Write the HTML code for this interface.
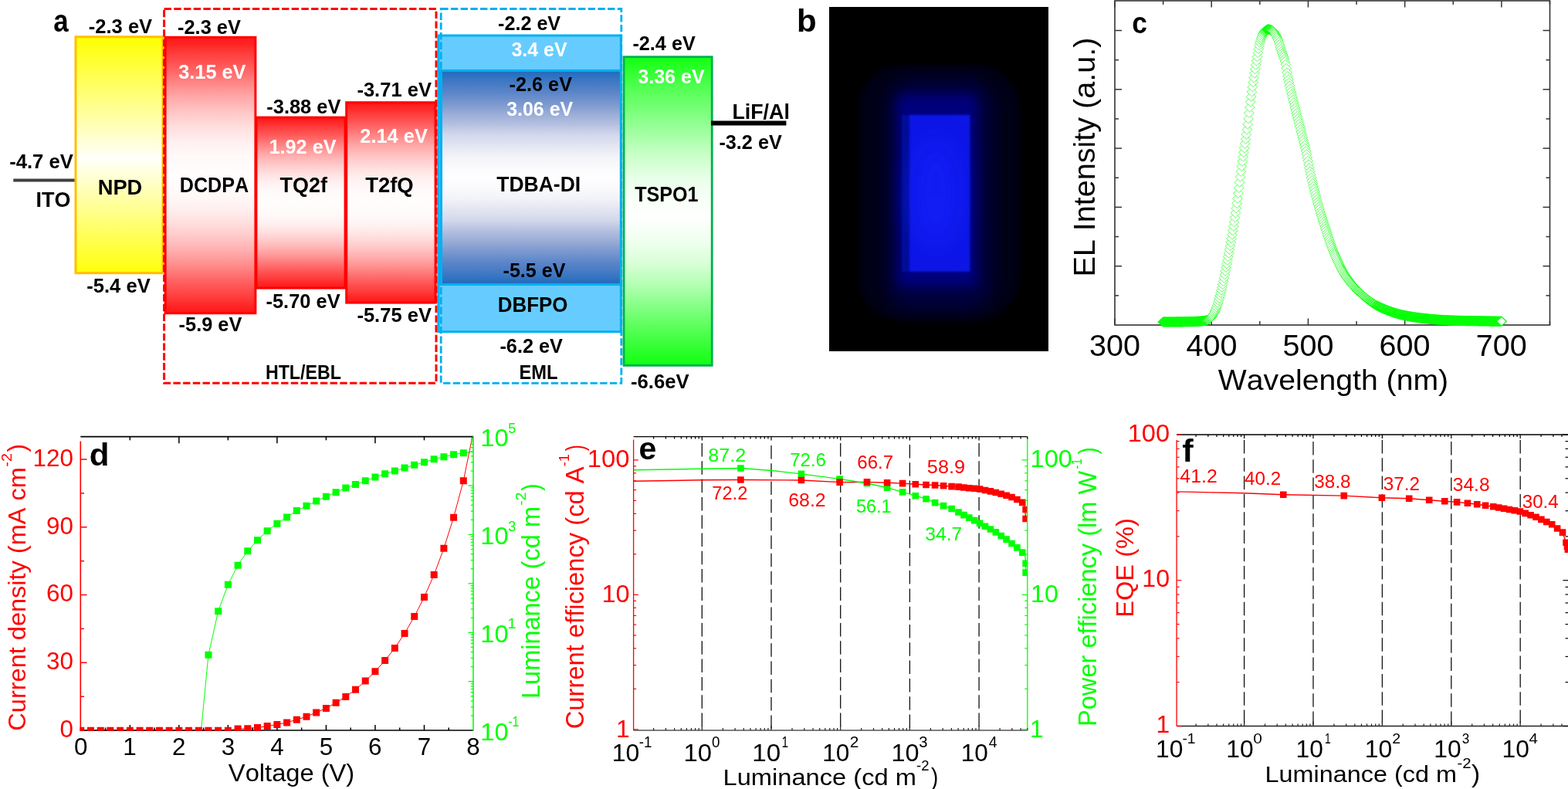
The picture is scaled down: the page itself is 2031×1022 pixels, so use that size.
<!DOCTYPE html>
<html><head><meta charset="utf-8"><title>Figure</title>
<style>
html,body{margin:0;padding:0;background:#fff;width:2031px;height:1022px;overflow:hidden}
svg{display:block}
text{font-family:"Liberation Sans",Arial,sans-serif;font-kerning:none}
</style></head><body>
<svg width="2031" height="1022" viewBox="0 0 2031 1022">
<defs>
<linearGradient id="gY" x1="0" y1="0" x2="0" y2="1"><stop offset="0.0000" stop-color="#ffff00"/><stop offset="0.5150" stop-color="#fffffa"/><stop offset="1.0000" stop-color="#ffff0a"/></linearGradient>
<linearGradient id="gR" x1="0" y1="0" x2="0" y2="1"><stop offset="0.0000" stop-color="#ff1616"/><stop offset="0.0300" stop-color="#ff2828"/><stop offset="0.0600" stop-color="#ff3e3e"/><stop offset="0.0900" stop-color="#ff5050"/><stop offset="0.1300" stop-color="#ff6c6c"/><stop offset="0.1800" stop-color="#ff9090"/><stop offset="0.2300" stop-color="#ffb0b0"/><stop offset="0.2800" stop-color="#ffcaca"/><stop offset="0.3300" stop-color="#ffe0e0"/><stop offset="0.3800" stop-color="#fff0f0"/><stop offset="0.4300" stop-color="#fff9f9"/><stop offset="0.5000" stop-color="#fffdfd"/><stop offset="0.5700" stop-color="#fff9f9"/><stop offset="0.6200" stop-color="#fff0f0"/><stop offset="0.6700" stop-color="#ffe0e0"/><stop offset="0.7200" stop-color="#ffcaca"/><stop offset="0.7700" stop-color="#ffb0b0"/><stop offset="0.8200" stop-color="#ff9090"/><stop offset="0.8700" stop-color="#ff6c6c"/><stop offset="0.9100" stop-color="#ff5050"/><stop offset="0.9400" stop-color="#ff3e3e"/><stop offset="0.9700" stop-color="#ff2828"/><stop offset="1.0000" stop-color="#ff1616"/></linearGradient>
<linearGradient id="gG" x1="0" y1="0" x2="0" y2="1"><stop offset="0.0000" stop-color="#10ff10"/><stop offset="0.1000" stop-color="#52ff52"/><stop offset="0.1700" stop-color="#78ff78"/><stop offset="0.2440" stop-color="#a0ffa0"/><stop offset="0.3170" stop-color="#c8ffc8"/><stop offset="0.3920" stop-color="#e8ffe8"/><stop offset="0.4660" stop-color="#f8fff8"/><stop offset="0.5200" stop-color="#fefffe"/><stop offset="0.5940" stop-color="#f0fff0"/><stop offset="0.6690" stop-color="#d8ffd8"/><stop offset="0.7430" stop-color="#b0ffb0"/><stop offset="0.8160" stop-color="#80ff80"/><stop offset="0.8910" stop-color="#50ff50"/><stop offset="0.9650" stop-color="#25ff25"/><stop offset="1.0000" stop-color="#12ff12"/></linearGradient>
<linearGradient id="gB" x1="0" y1="0" x2="0" y2="1"><stop offset="0.0000" stop-color="#1f6abd"/><stop offset="0.0500" stop-color="#3f78c3"/><stop offset="0.1000" stop-color="#5a84c8"/><stop offset="0.1640" stop-color="#809cd0"/><stop offset="0.2000" stop-color="#98abd6"/><stop offset="0.2500" stop-color="#b4bfdf"/><stop offset="0.3000" stop-color="#d2d8ec"/><stop offset="0.3500" stop-color="#e2e5f1"/><stop offset="0.4000" stop-color="#f2f3f8"/><stop offset="0.4600" stop-color="#fbfbfd"/><stop offset="0.5000" stop-color="#fefeff"/><stop offset="0.5400" stop-color="#fbfbfd"/><stop offset="0.6000" stop-color="#f2f3f8"/><stop offset="0.6500" stop-color="#e2e5f1"/><stop offset="0.7000" stop-color="#d2d8ec"/><stop offset="0.7500" stop-color="#b4bfdf"/><stop offset="0.8000" stop-color="#98abd6"/><stop offset="0.8360" stop-color="#809cd0"/><stop offset="0.9000" stop-color="#5a84c8"/><stop offset="0.9500" stop-color="#3f78c3"/><stop offset="1.0000" stop-color="#1f6abd"/></linearGradient>
<filter id="blurA" x="-50%" y="-50%" width="200%" height="200%"><feGaussianBlur stdDeviation="10"/></filter>
<filter id="blurB" x="-50%" y="-50%" width="200%" height="200%"><feGaussianBlur stdDeviation="16"/></filter>
<filter id="blurD" x="-20%" y="-20%" width="140%" height="140%"><feGaussianBlur stdDeviation="5"/></filter>
<filter id="blurE" x="-30%" y="-30%" width="160%" height="160%"><feGaussianBlur stdDeviation="7"/></filter>
<filter id="blurC" x="-20%" y="-20%" width="140%" height="140%"><feGaussianBlur stdDeviation="1.6"/></filter>
<radialGradient id="gGlow" cx="0.5" cy="0.5" r="0.5"><stop offset="0" stop-color="#0c1cfa"/><stop offset="1" stop-color="#0812d8"/></radialGradient>
<clipPath id="clipB"><rect x="1074.3" y="9.2" width="283.7" height="446"/></clipPath>
<path id="dm" d="M0 -6L6.4 0L0 6L-6.4 0Z" fill="#fff" stroke="#00ff00"/>
<clipPath id="clipD"><rect x="103.5" y="565.6" width="509.5" height="381.2"/></clipPath>
<clipPath id="clipE"><rect x="820.6" y="565.6" width="510.2" height="380.4"/></clipPath>
<clipPath id="clipF"><rect x="1524.1" y="563" width="507.4" height="377.5"/></clipPath>
</defs>
<rect x="0" y="0" width="2031" height="1022" fill="#fff"/>
<line x1="17.3" y1="233.4" x2="98" y2="233.4" stroke="#404040" stroke-width="4"/>
<rect x="98" y="47.7" width="113" height="306" fill="url(#gY)" stroke="#ffc000" stroke-width="3"/>
<rect x="214.1" y="48.3" width="116.8" height="357.4" fill="url(#gR)" stroke="#ff0000" stroke-width="3"/>
<rect x="331.9" y="152.1" width="115.2" height="221" fill="url(#gR)" stroke="#ff0000" stroke-width="3"/>
<rect x="448.7" y="132.7" width="115.4" height="259.4" fill="url(#gR)" stroke="#ff0000" stroke-width="3"/>
<rect x="567.9" y="46" width="236.4" height="45.5" fill="#66ccff" stroke="#00b0f0" stroke-width="3"/>
<rect x="567.9" y="91.4" width="236.4" height="277.1" fill="url(#gB)" stroke="#00b0f0" stroke-width="3"/>
<rect x="569.5" y="91" width="3.5" height="277" fill="#00b0f0" stroke="none" stroke-width="0"/>
<rect x="567.9" y="368.5" width="236.4" height="61.2" fill="#66ccff" stroke="#00b0f0" stroke-width="3"/>
<rect x="212.6" y="11.5" width="352.4" height="484.8" fill="none" stroke="#ff0000" stroke-width="3" stroke-dasharray="9.4 3.3"/>
<rect x="571.2" y="11.5" width="233.6" height="484.8" fill="none" stroke="#00b0f0" stroke-width="2.8" stroke-dasharray="9.4 3.3"/>
<rect x="808" y="73.7" width="114.2" height="399.7" fill="url(#gG)" stroke="#00b050" stroke-width="2.8"/>
<line x1="921" y1="159.4" x2="1018.4" y2="159.4" stroke="#000" stroke-width="6"/>
<text x="69.28" y="41.3" font-size="40.89" textLength="19.4" lengthAdjust="spacingAndGlyphs" fill="#000" font-weight="bold">a</text>
<text x="114.8" y="42.6" font-size="25.6" textLength="82.37" lengthAdjust="spacingAndGlyphs" fill="#000" font-weight="bold">-2.3 eV</text>
<text x="230.01" y="43.5" font-size="25.6" textLength="81.87" lengthAdjust="spacingAndGlyphs" fill="#000" font-weight="bold">-2.3 eV</text>
<text x="12.2" y="217.7" font-size="25.6" textLength="82.68" lengthAdjust="spacingAndGlyphs" fill="#000" font-weight="bold">-4.7 eV</text>
<text x="46.5" y="267.8" font-size="27.4" textLength="44.94" lengthAdjust="spacingAndGlyphs" fill="#000" font-weight="bold">ITO</text>
<text x="126.67" y="252" font-size="27.4" textLength="57.67" lengthAdjust="spacingAndGlyphs" fill="#000" font-weight="bold">NPD</text>
<text x="112.2" y="379" font-size="25.6" textLength="82.68" lengthAdjust="spacingAndGlyphs" fill="#000" font-weight="bold">-5.4 eV</text>
<text x="231.22" y="101.8" font-size="25.6" textLength="87.25" lengthAdjust="spacingAndGlyphs" fill="#fff" font-weight="bold">3.15 eV</text>
<text x="232.72" y="249.4" font-size="27.4" textLength="89.55" lengthAdjust="spacingAndGlyphs" fill="#000" font-weight="bold">DCDPA</text>
<text x="231.61" y="429.4" font-size="25.6" textLength="81.76" lengthAdjust="spacingAndGlyphs" fill="#000" font-weight="bold">-5.9 eV</text>
<text x="345.31" y="147" font-size="25.6" textLength="96.07" lengthAdjust="spacingAndGlyphs" fill="#000" font-weight="bold">-3.88 eV</text>
<text x="348.41" y="199" font-size="25.6" textLength="87.17" lengthAdjust="spacingAndGlyphs" fill="#fff" font-weight="bold">1.92 eV</text>
<text x="362.5" y="249.4" font-size="27.4" textLength="61.45" lengthAdjust="spacingAndGlyphs" fill="#000" font-weight="bold">TQ2f</text>
<text x="344.51" y="398.9" font-size="25.6" textLength="96.17" lengthAdjust="spacingAndGlyphs" fill="#000" font-weight="bold">-5.70 eV</text>
<text x="462.4" y="124.7" font-size="25.6" textLength="96.57" lengthAdjust="spacingAndGlyphs" fill="#000" font-weight="bold">-3.71 eV</text>
<text x="466.32" y="184.5" font-size="25.6" textLength="87.55" lengthAdjust="spacingAndGlyphs" fill="#fff" font-weight="bold">2.14 eV</text>
<text x="473.19" y="249.4" font-size="27.4" textLength="62.56" lengthAdjust="spacingAndGlyphs" fill="#000" font-weight="bold">T2fQ</text>
<text x="462.4" y="416.7" font-size="25.6" textLength="96.57" lengthAdjust="spacingAndGlyphs" fill="#000" font-weight="bold">-5.75 eV</text>
<text x="343.95" y="490.5" font-size="25.48" textLength="97.97" lengthAdjust="spacingAndGlyphs" fill="#000" font-weight="bold">HTL/EBL</text>
<text x="645.02" y="39.4" font-size="25.6" textLength="81.16" lengthAdjust="spacingAndGlyphs" fill="#000" font-weight="bold">-2.2 eV</text>
<text x="662.53" y="72.5" font-size="25.6" textLength="72.04" lengthAdjust="spacingAndGlyphs" fill="#fff" font-weight="bold">3.4 eV</text>
<text x="659.61" y="118.3" font-size="25.6" textLength="81.36" lengthAdjust="spacingAndGlyphs" fill="#000" font-weight="bold">-2.6 eV</text>
<text x="656.23" y="150" font-size="25.6" textLength="85.94" lengthAdjust="spacingAndGlyphs" fill="#fff" font-weight="bold">3.06 eV</text>
<text x="643.2" y="248" font-size="27.4" textLength="108.97" lengthAdjust="spacingAndGlyphs" fill="#000" font-weight="bold">TDBA-DI</text>
<text x="651.52" y="358.9" font-size="25.6" textLength="81.05" lengthAdjust="spacingAndGlyphs" fill="#000" font-weight="bold">-5.5 eV</text>
<text x="644.87" y="404" font-size="27.4" textLength="90.62" lengthAdjust="spacingAndGlyphs" fill="#000" font-weight="bold">DBFPO</text>
<text x="647.41" y="457.4" font-size="25.6" textLength="81.56" lengthAdjust="spacingAndGlyphs" fill="#000" font-weight="bold">-6.2 eV</text>
<text x="672.42" y="490.5" font-size="25.48" textLength="50.01" lengthAdjust="spacingAndGlyphs" fill="#000" font-weight="bold">EML</text>
<text x="819.41" y="64.5" font-size="25.6" textLength="81.36" lengthAdjust="spacingAndGlyphs" fill="#000" font-weight="bold">-2.4 eV</text>
<text x="826.22" y="107.8" font-size="25.6" textLength="86.55" lengthAdjust="spacingAndGlyphs" fill="#fff" font-weight="bold">3.36 eV</text>
<text x="822.22" y="261.2" font-size="27.4" textLength="82.38" lengthAdjust="spacingAndGlyphs" fill="#000" font-weight="bold">TSPO1</text>
<text x="948.41" y="153.6" font-size="27.4" textLength="74.49" lengthAdjust="spacingAndGlyphs" fill="#000" font-weight="bold">LiF/Al</text>
<text x="931.41" y="192.5" font-size="25.6" textLength="81.36" lengthAdjust="spacingAndGlyphs" fill="#000" font-weight="bold">-3.2 eV</text>
<text x="817" y="502.6" font-size="25.6" textLength="75.68" lengthAdjust="spacingAndGlyphs" fill="#000" font-weight="bold">-6.6eV</text>
<text x="1031.93" y="41.4" font-size="41.26" textLength="25.7" lengthAdjust="spacingAndGlyphs" fill="#000" font-weight="bold">b</text>
<rect x="1074" y="9" width="284" height="446" fill="#000" stroke="none" stroke-width="0"/>
<g clip-path="url(#clipB)">
<rect x="1112" y="84" width="208" height="331" fill="#000016" stroke="none" stroke-width="0" rx="55" filter="url(#blurD)"/>
<rect x="1148" y="102" width="138" height="300" fill="#00003e" stroke="none" stroke-width="0" rx="35" filter="url(#blurA)"/>
<rect x="1162" y="122" width="104" height="250" fill="#00007c" stroke="none" stroke-width="0" rx="12" filter="url(#blurE)"/>
<rect x="1168" y="148.5" width="89" height="203.5" fill="#060c98" stroke="none" stroke-width="0" filter="url(#blurC)"/>
<rect x="1178" y="149" width="78" height="202.5" fill="#0a14e6" stroke="none" stroke-width="0" filter="url(#blurC)"/>
<ellipse cx="1212" cy="250" rx="30" ry="70" fill="#1424ff" opacity="0.6" filter="url(#blurB)"/>
</g>
<rect x="1444" y="1" width="563.5" height="420" fill="none" stroke="#333" stroke-width="1.6"/>
<line x1="1444" y1="421" x2="1444" y2="412.5" stroke="#333" stroke-width="1.5"/>
<line x1="1444" y1="1" x2="1444" y2="9.5" stroke="#333" stroke-width="1.5"/>
<line x1="1506.61" y1="421" x2="1506.61" y2="416" stroke="#333" stroke-width="1.5"/>
<line x1="1506.61" y1="1" x2="1506.61" y2="6" stroke="#333" stroke-width="1.5"/>
<line x1="1569.22" y1="421" x2="1569.22" y2="412.5" stroke="#333" stroke-width="1.5"/>
<line x1="1569.22" y1="1" x2="1569.22" y2="9.5" stroke="#333" stroke-width="1.5"/>
<line x1="1631.83" y1="421" x2="1631.83" y2="416" stroke="#333" stroke-width="1.5"/>
<line x1="1631.83" y1="1" x2="1631.83" y2="6" stroke="#333" stroke-width="1.5"/>
<line x1="1694.44" y1="421" x2="1694.44" y2="412.5" stroke="#333" stroke-width="1.5"/>
<line x1="1694.44" y1="1" x2="1694.44" y2="9.5" stroke="#333" stroke-width="1.5"/>
<line x1="1757.06" y1="421" x2="1757.06" y2="416" stroke="#333" stroke-width="1.5"/>
<line x1="1757.06" y1="1" x2="1757.06" y2="6" stroke="#333" stroke-width="1.5"/>
<line x1="1819.67" y1="421" x2="1819.67" y2="412.5" stroke="#333" stroke-width="1.5"/>
<line x1="1819.67" y1="1" x2="1819.67" y2="9.5" stroke="#333" stroke-width="1.5"/>
<line x1="1882.28" y1="421" x2="1882.28" y2="416" stroke="#333" stroke-width="1.5"/>
<line x1="1882.28" y1="1" x2="1882.28" y2="6" stroke="#333" stroke-width="1.5"/>
<line x1="1944.89" y1="421" x2="1944.89" y2="412.5" stroke="#333" stroke-width="1.5"/>
<line x1="1944.89" y1="1" x2="1944.89" y2="9.5" stroke="#333" stroke-width="1.5"/>
<line x1="2007.5" y1="421" x2="2007.5" y2="416" stroke="#333" stroke-width="1.5"/>
<line x1="2007.5" y1="1" x2="2007.5" y2="6" stroke="#333" stroke-width="1.5"/>
<line x1="1444" y1="382.85" x2="1449" y2="382.85" stroke="#333" stroke-width="1.5"/>
<line x1="2007.5" y1="382.85" x2="2002.5" y2="382.85" stroke="#333" stroke-width="1.5"/>
<line x1="1444" y1="344.7" x2="1453" y2="344.7" stroke="#333" stroke-width="1.5"/>
<line x1="2007.5" y1="344.7" x2="1998.5" y2="344.7" stroke="#333" stroke-width="1.5"/>
<line x1="1444" y1="306.55" x2="1449" y2="306.55" stroke="#333" stroke-width="1.5"/>
<line x1="2007.5" y1="306.55" x2="2002.5" y2="306.55" stroke="#333" stroke-width="1.5"/>
<line x1="1444" y1="268.4" x2="1453" y2="268.4" stroke="#333" stroke-width="1.5"/>
<line x1="2007.5" y1="268.4" x2="1998.5" y2="268.4" stroke="#333" stroke-width="1.5"/>
<line x1="1444" y1="230.25" x2="1449" y2="230.25" stroke="#333" stroke-width="1.5"/>
<line x1="2007.5" y1="230.25" x2="2002.5" y2="230.25" stroke="#333" stroke-width="1.5"/>
<line x1="1444" y1="192.1" x2="1453" y2="192.1" stroke="#333" stroke-width="1.5"/>
<line x1="2007.5" y1="192.1" x2="1998.5" y2="192.1" stroke="#333" stroke-width="1.5"/>
<line x1="1444" y1="153.95" x2="1449" y2="153.95" stroke="#333" stroke-width="1.5"/>
<line x1="2007.5" y1="153.95" x2="2002.5" y2="153.95" stroke="#333" stroke-width="1.5"/>
<line x1="1444" y1="115.8" x2="1453" y2="115.8" stroke="#333" stroke-width="1.5"/>
<line x1="2007.5" y1="115.8" x2="1998.5" y2="115.8" stroke="#333" stroke-width="1.5"/>
<line x1="1444" y1="77.65" x2="1449" y2="77.65" stroke="#333" stroke-width="1.5"/>
<line x1="2007.5" y1="77.65" x2="2002.5" y2="77.65" stroke="#333" stroke-width="1.5"/>
<line x1="1444" y1="39.5" x2="1453" y2="39.5" stroke="#333" stroke-width="1.5"/>
<line x1="2007.5" y1="39.5" x2="1998.5" y2="39.5" stroke="#333" stroke-width="1.5"/>
<use href="#dm" x="1506.61" y="417" stroke-width="1.22"/><use href="#dm" x="1507.49" y="417" stroke-width="1.22"/><use href="#dm" x="1508.36" y="417" stroke-width="1.22"/><use href="#dm" x="1509.24" y="417" stroke-width="1.22"/><use href="#dm" x="1510.12" y="417" stroke-width="1.22"/><use href="#dm" x="1510.99" y="417" stroke-width="1.22"/><use href="#dm" x="1511.87" y="417" stroke-width="1.22"/><use href="#dm" x="1512.75" y="417" stroke-width="1.22"/><use href="#dm" x="1513.62" y="417" stroke-width="1.22"/><use href="#dm" x="1514.5" y="417" stroke-width="1.22"/><use href="#dm" x="1515.38" y="417" stroke-width="1.22"/><use href="#dm" x="1516.25" y="417" stroke-width="1.22"/><use href="#dm" x="1517.13" y="417" stroke-width="1.22"/><use href="#dm" x="1518.01" y="417" stroke-width="1.22"/><use href="#dm" x="1518.88" y="417" stroke-width="1.22"/><use href="#dm" x="1519.76" y="417" stroke-width="1.22"/><use href="#dm" x="1520.64" y="416.99" stroke-width="1.22"/><use href="#dm" x="1521.51" y="416.99" stroke-width="1.22"/><use href="#dm" x="1522.39" y="416.98" stroke-width="1.21"/><use href="#dm" x="1523.27" y="416.97" stroke-width="1.21"/><use href="#dm" x="1524.14" y="416.95" stroke-width="1.21"/><use href="#dm" x="1525.02" y="416.94" stroke-width="1.21"/><use href="#dm" x="1525.9" y="416.92" stroke-width="1.21"/><use href="#dm" x="1526.77" y="416.9" stroke-width="1.21"/><use href="#dm" x="1527.65" y="416.88" stroke-width="1.21"/><use href="#dm" x="1528.52" y="416.87" stroke-width="1.21"/><use href="#dm" x="1529.4" y="416.85" stroke-width="1.21"/><use href="#dm" x="1530.28" y="416.83" stroke-width="1.21"/><use href="#dm" x="1531.15" y="416.82" stroke-width="1.21"/><use href="#dm" x="1532.03" y="416.8" stroke-width="1.21"/><use href="#dm" x="1532.91" y="416.79" stroke-width="1.21"/><use href="#dm" x="1533.78" y="416.78" stroke-width="1.21"/><use href="#dm" x="1534.66" y="416.77" stroke-width="1.21"/><use href="#dm" x="1535.54" y="416.76" stroke-width="1.21"/><use href="#dm" x="1536.41" y="416.75" stroke-width="1.21"/><use href="#dm" x="1537.29" y="416.74" stroke-width="1.21"/><use href="#dm" x="1538.17" y="416.73" stroke-width="1.21"/><use href="#dm" x="1539.04" y="416.71" stroke-width="1.21"/><use href="#dm" x="1539.92" y="416.7" stroke-width="1.21"/><use href="#dm" x="1540.8" y="416.69" stroke-width="1.21"/><use href="#dm" x="1541.67" y="416.67" stroke-width="1.21"/><use href="#dm" x="1542.55" y="416.66" stroke-width="1.21"/><use href="#dm" x="1543.43" y="416.64" stroke-width="1.21"/><use href="#dm" x="1544.3" y="416.62" stroke-width="1.21"/><use href="#dm" x="1545.18" y="416.59" stroke-width="1.2"/><use href="#dm" x="1546.06" y="416.56" stroke-width="1.2"/><use href="#dm" x="1546.93" y="416.53" stroke-width="1.2"/><use href="#dm" x="1547.81" y="416.49" stroke-width="1.2"/><use href="#dm" x="1548.69" y="416.44" stroke-width="1.19"/><use href="#dm" x="1549.56" y="416.39" stroke-width="1.19"/><use href="#dm" x="1550.44" y="416.34" stroke-width="1.19"/><use href="#dm" x="1551.32" y="416.28" stroke-width="1.19"/><use href="#dm" x="1552.19" y="416.22" stroke-width="1.19"/><use href="#dm" x="1553.07" y="416.16" stroke-width="1.18"/><use href="#dm" x="1553.95" y="416.09" stroke-width="1.18"/><use href="#dm" x="1554.82" y="416.02" stroke-width="1.18"/><use href="#dm" x="1555.7" y="415.95" stroke-width="1.18"/><use href="#dm" x="1556.57" y="415.87" stroke-width="1.18"/><use href="#dm" x="1557.45" y="415.8" stroke-width="1.18"/><use href="#dm" x="1558.33" y="415.71" stroke-width="1.17"/><use href="#dm" x="1559.2" y="415.62" stroke-width="1.17"/><use href="#dm" x="1560.08" y="415.51" stroke-width="1.16"/><use href="#dm" x="1560.96" y="415.39" stroke-width="1.15"/><use href="#dm" x="1561.83" y="415.23" stroke-width="1.13"/><use href="#dm" x="1562.71" y="415.05" stroke-width="1.1"/><use href="#dm" x="1563.59" y="414.75" stroke-width="1.05"/><use href="#dm" x="1564.46" y="414.34" stroke-width="1"/><use href="#dm" x="1565.34" y="413.82" stroke-width="0.97"/><use href="#dm" x="1566.22" y="413.21" stroke-width="0.94"/><use href="#dm" x="1567.09" y="412.51" stroke-width="0.92"/><use href="#dm" x="1567.97" y="411.75" stroke-width="0.9"/><use href="#dm" x="1568.85" y="410.92" stroke-width="0.89"/><use href="#dm" x="1569.72" y="410.02" stroke-width="0.85"/><use href="#dm" x="1570.6" y="408.87" stroke-width="0.8"/><use href="#dm" x="1571.48" y="407.49" stroke-width="0.77"/><use href="#dm" x="1572.35" y="405.92" stroke-width="0.74"/><use href="#dm" x="1573.23" y="404.17" stroke-width="0.73"/><use href="#dm" x="1574.11" y="402.3" stroke-width="0.72"/><use href="#dm" x="1574.98" y="400.28" stroke-width="0.7"/><use href="#dm" x="1575.86" y="397.98" stroke-width="0.68"/><use href="#dm" x="1576.74" y="395.39" stroke-width="0.67"/><use href="#dm" x="1577.61" y="392.57" stroke-width="0.66"/><use href="#dm" x="1578.49" y="389.53" stroke-width="0.65"/><use href="#dm" x="1579.37" y="386.32" stroke-width="0.65"/><use href="#dm" x="1580.24" y="382.96" stroke-width="0.64"/><use href="#dm" x="1581.12" y="379.5" stroke-width="0.64"/><use href="#dm" x="1581.99" y="375.97" stroke-width="0.64"/><use href="#dm" x="1582.87" y="372.38" stroke-width="0.64"/><use href="#dm" x="1583.75" y="368.57" stroke-width="0.63"/><use href="#dm" x="1584.62" y="364.5" stroke-width="0.63"/><use href="#dm" x="1585.5" y="360.23" stroke-width="0.63"/><use href="#dm" x="1586.38" y="355.78" stroke-width="0.63"/><use href="#dm" x="1587.25" y="351.22" stroke-width="0.63"/><use href="#dm" x="1588.13" y="346.57" stroke-width="0.63"/><use href="#dm" x="1589.01" y="341.89" stroke-width="0.63"/><use href="#dm" x="1589.88" y="337.21" stroke-width="0.63"/><use href="#dm" x="1590.76" y="332.58" stroke-width="0.63"/><use href="#dm" x="1591.64" y="327.99" stroke-width="0.63"/><use href="#dm" x="1592.51" y="323.38" stroke-width="0.63"/><use href="#dm" x="1593.39" y="318.71" stroke-width="0.63"/><use href="#dm" x="1594.27" y="313.95" stroke-width="0.63"/><use href="#dm" x="1595.14" y="309.06" stroke-width="0.63"/><use href="#dm" x="1596.02" y="304" stroke-width="0.62"/><use href="#dm" x="1596.9" y="298.75" stroke-width="0.62"/><use href="#dm" x="1597.77" y="293.29" stroke-width="0.62"/><use href="#dm" x="1598.65" y="287.65" stroke-width="0.62"/><use href="#dm" x="1599.53" y="281.84" stroke-width="0.62"/><use href="#dm" x="1600.4" y="275.88" stroke-width="0.62"/><use href="#dm" x="1601.28" y="269.78" stroke-width="0.62"/><use href="#dm" x="1602.16" y="263.55" stroke-width="0.62"/><use href="#dm" x="1603.03" y="257.16" stroke-width="0.62"/><use href="#dm" x="1603.91" y="250.42" stroke-width="0.62"/><use href="#dm" x="1604.79" y="243.41" stroke-width="0.62"/><use href="#dm" x="1605.66" y="236.27" stroke-width="0.62"/><use href="#dm" x="1606.54" y="229.15" stroke-width="0.62"/><use href="#dm" x="1607.41" y="222.17" stroke-width="0.62"/><use href="#dm" x="1608.29" y="215.47" stroke-width="0.62"/><use href="#dm" x="1609.17" y="209.17" stroke-width="0.62"/><use href="#dm" x="1610.04" y="203.22" stroke-width="0.62"/><use href="#dm" x="1610.92" y="197.5" stroke-width="0.62"/><use href="#dm" x="1611.8" y="191.88" stroke-width="0.62"/><use href="#dm" x="1612.67" y="186.24" stroke-width="0.62"/><use href="#dm" x="1613.55" y="180.43" stroke-width="0.62"/><use href="#dm" x="1614.43" y="174.35" stroke-width="0.62"/><use href="#dm" x="1615.3" y="167.85" stroke-width="0.62"/><use href="#dm" x="1616.18" y="160.92" stroke-width="0.62"/><use href="#dm" x="1617.06" y="153.71" stroke-width="0.62"/><use href="#dm" x="1617.93" y="146.38" stroke-width="0.62"/><use href="#dm" x="1618.81" y="139.1" stroke-width="0.62"/><use href="#dm" x="1619.69" y="132.03" stroke-width="0.62"/><use href="#dm" x="1620.56" y="125.33" stroke-width="0.62"/><use href="#dm" x="1621.44" y="118.98" stroke-width="0.62"/><use href="#dm" x="1622.32" y="112.75" stroke-width="0.62"/><use href="#dm" x="1623.19" y="106.67" stroke-width="0.62"/><use href="#dm" x="1624.07" y="100.76" stroke-width="0.62"/><use href="#dm" x="1624.95" y="95.03" stroke-width="0.62"/><use href="#dm" x="1625.82" y="89.52" stroke-width="0.62"/><use href="#dm" x="1626.7" y="84.24" stroke-width="0.62"/><use href="#dm" x="1627.58" y="78.99" stroke-width="0.62"/><use href="#dm" x="1628.45" y="73.67" stroke-width="0.62"/><use href="#dm" x="1629.33" y="68.46" stroke-width="0.62"/><use href="#dm" x="1630.21" y="63.52" stroke-width="0.63"/><use href="#dm" x="1631.08" y="59.02" stroke-width="0.63"/><use href="#dm" x="1631.96" y="55.13" stroke-width="0.64"/><use href="#dm" x="1632.84" y="52.02" stroke-width="0.66"/><use href="#dm" x="1633.71" y="49.45" stroke-width="0.68"/><use href="#dm" x="1634.59" y="47.06" stroke-width="0.69"/><use href="#dm" x="1635.46" y="44.93" stroke-width="0.71"/><use href="#dm" x="1636.34" y="43.12" stroke-width="0.75"/><use href="#dm" x="1637.22" y="41.67" stroke-width="0.8"/><use href="#dm" x="1638.09" y="40.65" stroke-width="0.89"/><use href="#dm" x="1638.97" y="39.89" stroke-width="0.92"/><use href="#dm" x="1639.85" y="39.2" stroke-width="0.95"/><use href="#dm" x="1640.72" y="38.62" stroke-width="0.99"/><use href="#dm" x="1641.6" y="38.21" stroke-width="1.07"/><use href="#dm" x="1642.48" y="38.01" stroke-width="1.18"/><use href="#dm" x="1643.35" y="38.04" stroke-width="1.17"/><use href="#dm" x="1644.23" y="38.19" stroke-width="1.11"/><use href="#dm" x="1645.11" y="38.46" stroke-width="1.07"/><use href="#dm" x="1645.98" y="38.81" stroke-width="1.04"/><use href="#dm" x="1646.86" y="39.22" stroke-width="1.01"/><use href="#dm" x="1647.74" y="39.69" stroke-width="1"/><use href="#dm" x="1648.61" y="40.22" stroke-width="0.94"/><use href="#dm" x="1649.49" y="41.01" stroke-width="0.87"/><use href="#dm" x="1650.37" y="42.05" stroke-width="0.82"/><use href="#dm" x="1651.24" y="43.31" stroke-width="0.79"/><use href="#dm" x="1652.12" y="44.75" stroke-width="0.76"/><use href="#dm" x="1653" y="46.35" stroke-width="0.74"/><use href="#dm" x="1653.87" y="48.06" stroke-width="0.73"/><use href="#dm" x="1654.75" y="49.87" stroke-width="0.72"/><use href="#dm" x="1655.63" y="51.96" stroke-width="0.68"/><use href="#dm" x="1656.5" y="54.62" stroke-width="0.66"/><use href="#dm" x="1657.38" y="57.62" stroke-width="0.65"/><use href="#dm" x="1658.26" y="60.73" stroke-width="0.65"/><use href="#dm" x="1659.13" y="63.73" stroke-width="0.66"/><use href="#dm" x="1660.01" y="66.42" stroke-width="0.67"/><use href="#dm" x="1660.88" y="68.9" stroke-width="0.68"/><use href="#dm" x="1661.76" y="71.3" stroke-width="0.68"/><use href="#dm" x="1662.64" y="73.78" stroke-width="0.67"/><use href="#dm" x="1663.51" y="76.5" stroke-width="0.66"/><use href="#dm" x="1664.39" y="79.59" stroke-width="0.64"/><use href="#dm" x="1665.27" y="83.34" stroke-width="0.63"/><use href="#dm" x="1666.14" y="88.47" stroke-width="0.62"/><use href="#dm" x="1667.02" y="93.95" stroke-width="0.62"/><use href="#dm" x="1667.9" y="98.64" stroke-width="0.63"/><use href="#dm" x="1668.77" y="102.91" stroke-width="0.63"/><use href="#dm" x="1669.65" y="106.99" stroke-width="0.63"/><use href="#dm" x="1670.53" y="110.91" stroke-width="0.64"/><use href="#dm" x="1671.4" y="114.71" stroke-width="0.64"/><use href="#dm" x="1672.28" y="118.42" stroke-width="0.64"/><use href="#dm" x="1673.16" y="122.06" stroke-width="0.64"/><use href="#dm" x="1674.03" y="125.66" stroke-width="0.64"/><use href="#dm" x="1674.91" y="129.26" stroke-width="0.64"/><use href="#dm" x="1675.79" y="132.89" stroke-width="0.64"/><use href="#dm" x="1676.66" y="136.49" stroke-width="0.64"/><use href="#dm" x="1677.54" y="140.02" stroke-width="0.64"/><use href="#dm" x="1678.42" y="143.5" stroke-width="0.64"/><use href="#dm" x="1679.29" y="146.94" stroke-width="0.64"/><use href="#dm" x="1680.17" y="150.36" stroke-width="0.64"/><use href="#dm" x="1681.05" y="153.77" stroke-width="0.64"/><use href="#dm" x="1681.92" y="157.18" stroke-width="0.64"/><use href="#dm" x="1682.8" y="160.62" stroke-width="0.64"/><use href="#dm" x="1683.68" y="164.09" stroke-width="0.64"/><use href="#dm" x="1684.55" y="167.56" stroke-width="0.64"/><use href="#dm" x="1685.43" y="170.98" stroke-width="0.64"/><use href="#dm" x="1686.3" y="174.38" stroke-width="0.64"/><use href="#dm" x="1687.18" y="177.79" stroke-width="0.64"/><use href="#dm" x="1688.06" y="181.21" stroke-width="0.64"/><use href="#dm" x="1688.93" y="184.69" stroke-width="0.64"/><use href="#dm" x="1689.81" y="188.25" stroke-width="0.64"/><use href="#dm" x="1690.69" y="191.91" stroke-width="0.64"/><use href="#dm" x="1691.56" y="195.69" stroke-width="0.64"/><use href="#dm" x="1692.44" y="199.67" stroke-width="0.63"/><use href="#dm" x="1693.32" y="203.93" stroke-width="0.63"/><use href="#dm" x="1694.19" y="208.37" stroke-width="0.63"/><use href="#dm" x="1695.07" y="212.91" stroke-width="0.63"/><use href="#dm" x="1695.95" y="217.45" stroke-width="0.63"/><use href="#dm" x="1696.82" y="221.89" stroke-width="0.63"/><use href="#dm" x="1697.7" y="226.15" stroke-width="0.63"/><use href="#dm" x="1698.58" y="230.13" stroke-width="0.63"/><use href="#dm" x="1699.45" y="233.96" stroke-width="0.64"/><use href="#dm" x="1700.33" y="237.7" stroke-width="0.64"/><use href="#dm" x="1701.21" y="241.36" stroke-width="0.64"/><use href="#dm" x="1702.08" y="244.93" stroke-width="0.64"/><use href="#dm" x="1702.96" y="248.43" stroke-width="0.64"/><use href="#dm" x="1703.84" y="251.85" stroke-width="0.64"/><use href="#dm" x="1704.71" y="255.2" stroke-width="0.65"/><use href="#dm" x="1705.59" y="258.48" stroke-width="0.65"/><use href="#dm" x="1706.47" y="261.69" stroke-width="0.65"/><use href="#dm" x="1707.34" y="264.83" stroke-width="0.65"/><use href="#dm" x="1708.22" y="267.9" stroke-width="0.65"/><use href="#dm" x="1709.1" y="270.91" stroke-width="0.65"/><use href="#dm" x="1709.97" y="273.87" stroke-width="0.66"/><use href="#dm" x="1710.85" y="276.78" stroke-width="0.66"/><use href="#dm" x="1711.73" y="279.64" stroke-width="0.66"/><use href="#dm" x="1712.6" y="282.46" stroke-width="0.66"/><use href="#dm" x="1713.48" y="285.24" stroke-width="0.66"/><use href="#dm" x="1714.35" y="288" stroke-width="0.66"/><use href="#dm" x="1715.23" y="290.73" stroke-width="0.66"/><use href="#dm" x="1716.11" y="293.45" stroke-width="0.67"/><use href="#dm" x="1716.98" y="296.16" stroke-width="0.67"/><use href="#dm" x="1717.86" y="298.87" stroke-width="0.67"/><use href="#dm" x="1718.74" y="301.59" stroke-width="0.67"/><use href="#dm" x="1719.61" y="304.28" stroke-width="0.67"/><use href="#dm" x="1720.49" y="306.96" stroke-width="0.67"/><use href="#dm" x="1721.37" y="309.6" stroke-width="0.67"/><use href="#dm" x="1722.24" y="312.19" stroke-width="0.67"/><use href="#dm" x="1723.12" y="314.74" stroke-width="0.67"/><use href="#dm" x="1724" y="317.22" stroke-width="0.68"/><use href="#dm" x="1724.87" y="319.63" stroke-width="0.68"/><use href="#dm" x="1725.75" y="321.96" stroke-width="0.69"/><use href="#dm" x="1726.63" y="324.2" stroke-width="0.69"/><use href="#dm" x="1727.5" y="326.34" stroke-width="0.7"/><use href="#dm" x="1728.38" y="328.43" stroke-width="0.7"/><use href="#dm" x="1729.26" y="330.48" stroke-width="0.71"/><use href="#dm" x="1730.13" y="332.52" stroke-width="0.71"/><use href="#dm" x="1731.01" y="334.52" stroke-width="0.71"/><use href="#dm" x="1731.89" y="336.49" stroke-width="0.71"/><use href="#dm" x="1732.76" y="338.42" stroke-width="0.72"/><use href="#dm" x="1733.64" y="340.32" stroke-width="0.72"/><use href="#dm" x="1734.52" y="342.17" stroke-width="0.72"/><use href="#dm" x="1735.39" y="343.99" stroke-width="0.73"/><use href="#dm" x="1736.27" y="345.76" stroke-width="0.73"/><use href="#dm" x="1737.15" y="347.49" stroke-width="0.74"/><use href="#dm" x="1738.02" y="349.16" stroke-width="0.74"/><use href="#dm" x="1738.9" y="350.79" stroke-width="0.75"/><use href="#dm" x="1739.77" y="352.36" stroke-width="0.76"/><use href="#dm" x="1740.65" y="353.88" stroke-width="0.77"/><use href="#dm" x="1741.53" y="355.33" stroke-width="0.77"/><use href="#dm" x="1742.4" y="356.73" stroke-width="0.78"/><use href="#dm" x="1743.28" y="358.07" stroke-width="0.79"/><use href="#dm" x="1744.16" y="359.35" stroke-width="0.8"/><use href="#dm" x="1745.03" y="360.61" stroke-width="0.8"/><use href="#dm" x="1745.91" y="361.83" stroke-width="0.81"/><use href="#dm" x="1746.79" y="363.03" stroke-width="0.81"/><use href="#dm" x="1747.66" y="364.19" stroke-width="0.82"/><use href="#dm" x="1748.54" y="365.33" stroke-width="0.83"/><use href="#dm" x="1749.42" y="366.45" stroke-width="0.83"/><use href="#dm" x="1750.29" y="367.53" stroke-width="0.84"/><use href="#dm" x="1751.17" y="368.6" stroke-width="0.84"/><use href="#dm" x="1752.05" y="369.63" stroke-width="0.85"/><use href="#dm" x="1752.92" y="370.64" stroke-width="0.85"/><use href="#dm" x="1753.8" y="371.63" stroke-width="0.86"/><use href="#dm" x="1754.68" y="372.6" stroke-width="0.86"/><use href="#dm" x="1755.55" y="373.55" stroke-width="0.87"/><use href="#dm" x="1756.43" y="374.47" stroke-width="0.87"/><use href="#dm" x="1757.31" y="375.37" stroke-width="0.88"/><use href="#dm" x="1758.18" y="376.25" stroke-width="0.88"/><use href="#dm" x="1759.06" y="377.12" stroke-width="0.89"/><use href="#dm" x="1759.94" y="377.96" stroke-width="0.89"/><use href="#dm" x="1760.81" y="378.79" stroke-width="0.9"/><use href="#dm" x="1761.69" y="379.6" stroke-width="0.9"/><use href="#dm" x="1762.57" y="380.39" stroke-width="0.9"/><use href="#dm" x="1763.44" y="381.17" stroke-width="0.91"/><use href="#dm" x="1764.32" y="381.94" stroke-width="0.91"/><use href="#dm" x="1765.2" y="382.71" stroke-width="0.91"/><use href="#dm" x="1766.07" y="383.46" stroke-width="0.91"/><use href="#dm" x="1766.95" y="384.21" stroke-width="0.92"/><use href="#dm" x="1767.82" y="384.94" stroke-width="0.92"/><use href="#dm" x="1768.7" y="385.67" stroke-width="0.92"/><use href="#dm" x="1769.58" y="386.38" stroke-width="0.93"/><use href="#dm" x="1770.45" y="387.09" stroke-width="0.93"/><use href="#dm" x="1771.33" y="387.78" stroke-width="0.93"/><use href="#dm" x="1772.21" y="388.46" stroke-width="0.94"/><use href="#dm" x="1773.08" y="389.13" stroke-width="0.94"/><use href="#dm" x="1773.96" y="389.78" stroke-width="0.94"/><use href="#dm" x="1774.84" y="390.42" stroke-width="0.95"/><use href="#dm" x="1775.71" y="391.05" stroke-width="0.95"/><use href="#dm" x="1776.59" y="391.66" stroke-width="0.96"/><use href="#dm" x="1777.47" y="392.26" stroke-width="0.96"/><use href="#dm" x="1778.34" y="392.84" stroke-width="0.97"/><use href="#dm" x="1779.22" y="393.4" stroke-width="0.97"/><use href="#dm" x="1780.1" y="393.95" stroke-width="0.98"/><use href="#dm" x="1780.97" y="394.48" stroke-width="0.99"/><use href="#dm" x="1781.85" y="394.99" stroke-width="0.99"/><use href="#dm" x="1782.73" y="395.49" stroke-width="1"/><use href="#dm" x="1783.6" y="395.96" stroke-width="1.01"/><use href="#dm" x="1784.48" y="396.42" stroke-width="1.01"/><use href="#dm" x="1785.36" y="396.85" stroke-width="1.02"/><use href="#dm" x="1786.23" y="397.27" stroke-width="1.02"/><use href="#dm" x="1787.11" y="397.69" stroke-width="1.03"/><use href="#dm" x="1787.99" y="398.1" stroke-width="1.03"/><use href="#dm" x="1788.86" y="398.5" stroke-width="1.03"/><use href="#dm" x="1789.74" y="398.9" stroke-width="1.03"/><use href="#dm" x="1790.62" y="399.29" stroke-width="1.03"/><use href="#dm" x="1791.49" y="399.67" stroke-width="1.04"/><use href="#dm" x="1792.37" y="400.05" stroke-width="1.04"/><use href="#dm" x="1793.24" y="400.43" stroke-width="1.04"/><use href="#dm" x="1794.12" y="400.79" stroke-width="1.04"/><use href="#dm" x="1795" y="401.15" stroke-width="1.05"/><use href="#dm" x="1795.87" y="401.51" stroke-width="1.05"/><use href="#dm" x="1796.75" y="401.86" stroke-width="1.05"/><use href="#dm" x="1797.63" y="402.2" stroke-width="1.05"/><use href="#dm" x="1798.5" y="402.54" stroke-width="1.06"/><use href="#dm" x="1799.38" y="402.87" stroke-width="1.06"/><use href="#dm" x="1800.26" y="403.19" stroke-width="1.06"/><use href="#dm" x="1801.13" y="403.51" stroke-width="1.06"/><use href="#dm" x="1802.01" y="403.82" stroke-width="1.07"/><use href="#dm" x="1802.89" y="404.12" stroke-width="1.07"/><use href="#dm" x="1803.76" y="404.42" stroke-width="1.07"/><use href="#dm" x="1804.64" y="404.71" stroke-width="1.08"/><use href="#dm" x="1805.52" y="405" stroke-width="1.08"/><use href="#dm" x="1806.39" y="405.28" stroke-width="1.08"/><use href="#dm" x="1807.27" y="405.55" stroke-width="1.08"/><use href="#dm" x="1808.15" y="405.81" stroke-width="1.09"/><use href="#dm" x="1809.02" y="406.07" stroke-width="1.09"/><use href="#dm" x="1809.9" y="406.32" stroke-width="1.09"/><use href="#dm" x="1810.78" y="406.57" stroke-width="1.1"/><use href="#dm" x="1811.65" y="406.81" stroke-width="1.1"/><use href="#dm" x="1812.53" y="407.04" stroke-width="1.1"/><use href="#dm" x="1813.41" y="407.26" stroke-width="1.11"/><use href="#dm" x="1814.28" y="407.48" stroke-width="1.11"/><use href="#dm" x="1815.16" y="407.69" stroke-width="1.11"/><use href="#dm" x="1816.04" y="407.9" stroke-width="1.12"/><use href="#dm" x="1816.91" y="408.09" stroke-width="1.12"/><use href="#dm" x="1817.79" y="408.28" stroke-width="1.12"/><use href="#dm" x="1818.66" y="408.47" stroke-width="1.12"/><use href="#dm" x="1819.54" y="408.65" stroke-width="1.13"/><use href="#dm" x="1820.42" y="408.82" stroke-width="1.13"/><use href="#dm" x="1821.29" y="409" stroke-width="1.13"/><use href="#dm" x="1822.17" y="409.16" stroke-width="1.13"/><use href="#dm" x="1823.05" y="409.33" stroke-width="1.13"/><use href="#dm" x="1823.92" y="409.49" stroke-width="1.14"/><use href="#dm" x="1824.8" y="409.65" stroke-width="1.14"/><use href="#dm" x="1825.68" y="409.8" stroke-width="1.14"/><use href="#dm" x="1826.55" y="409.95" stroke-width="1.14"/><use href="#dm" x="1827.43" y="410.1" stroke-width="1.14"/><use href="#dm" x="1828.31" y="410.25" stroke-width="1.14"/><use href="#dm" x="1829.18" y="410.39" stroke-width="1.15"/><use href="#dm" x="1830.06" y="410.53" stroke-width="1.15"/><use href="#dm" x="1830.94" y="410.66" stroke-width="1.15"/><use href="#dm" x="1831.81" y="410.79" stroke-width="1.15"/><use href="#dm" x="1832.69" y="410.92" stroke-width="1.15"/><use href="#dm" x="1833.57" y="411.05" stroke-width="1.15"/><use href="#dm" x="1834.44" y="411.17" stroke-width="1.15"/><use href="#dm" x="1835.32" y="411.29" stroke-width="1.16"/><use href="#dm" x="1836.2" y="411.41" stroke-width="1.16"/><use href="#dm" x="1837.07" y="411.53" stroke-width="1.16"/><use href="#dm" x="1837.95" y="411.64" stroke-width="1.16"/><use href="#dm" x="1838.83" y="411.75" stroke-width="1.16"/><use href="#dm" x="1839.7" y="411.86" stroke-width="1.16"/><use href="#dm" x="1840.58" y="411.97" stroke-width="1.16"/><use href="#dm" x="1841.46" y="412.08" stroke-width="1.16"/><use href="#dm" x="1842.33" y="412.18" stroke-width="1.16"/><use href="#dm" x="1843.21" y="412.28" stroke-width="1.17"/><use href="#dm" x="1844.09" y="412.38" stroke-width="1.17"/><use href="#dm" x="1844.96" y="412.48" stroke-width="1.17"/><use href="#dm" x="1845.84" y="412.58" stroke-width="1.17"/><use href="#dm" x="1846.71" y="412.67" stroke-width="1.17"/><use href="#dm" x="1847.59" y="412.77" stroke-width="1.17"/><use href="#dm" x="1848.47" y="412.86" stroke-width="1.17"/><use href="#dm" x="1849.34" y="412.95" stroke-width="1.17"/><use href="#dm" x="1850.22" y="413.04" stroke-width="1.17"/><use href="#dm" x="1851.1" y="413.13" stroke-width="1.17"/><use href="#dm" x="1851.97" y="413.22" stroke-width="1.17"/><use href="#dm" x="1852.85" y="413.31" stroke-width="1.17"/><use href="#dm" x="1853.73" y="413.39" stroke-width="1.17"/><use href="#dm" x="1854.6" y="413.47" stroke-width="1.18"/><use href="#dm" x="1855.48" y="413.55" stroke-width="1.18"/><use href="#dm" x="1856.36" y="413.63" stroke-width="1.18"/><use href="#dm" x="1857.23" y="413.71" stroke-width="1.18"/><use href="#dm" x="1858.11" y="413.78" stroke-width="1.18"/><use href="#dm" x="1858.99" y="413.86" stroke-width="1.18"/><use href="#dm" x="1859.86" y="413.93" stroke-width="1.18"/><use href="#dm" x="1860.74" y="413.99" stroke-width="1.18"/><use href="#dm" x="1861.62" y="414.06" stroke-width="1.18"/><use href="#dm" x="1862.49" y="414.12" stroke-width="1.19"/><use href="#dm" x="1863.37" y="414.18" stroke-width="1.19"/><use href="#dm" x="1864.25" y="414.24" stroke-width="1.19"/><use href="#dm" x="1865.12" y="414.29" stroke-width="1.19"/><use href="#dm" x="1866" y="414.34" stroke-width="1.19"/><use href="#dm" x="1866.88" y="414.39" stroke-width="1.19"/><use href="#dm" x="1867.75" y="414.44" stroke-width="1.19"/><use href="#dm" x="1868.63" y="414.48" stroke-width="1.19"/><use href="#dm" x="1869.51" y="414.53" stroke-width="1.19"/><use href="#dm" x="1870.38" y="414.58" stroke-width="1.19"/><use href="#dm" x="1871.26" y="414.62" stroke-width="1.2"/><use href="#dm" x="1872.13" y="414.66" stroke-width="1.2"/><use href="#dm" x="1873.01" y="414.71" stroke-width="1.2"/><use href="#dm" x="1873.89" y="414.75" stroke-width="1.2"/><use href="#dm" x="1874.76" y="414.79" stroke-width="1.2"/><use href="#dm" x="1875.64" y="414.83" stroke-width="1.2"/><use href="#dm" x="1876.52" y="414.87" stroke-width="1.2"/><use href="#dm" x="1877.39" y="414.91" stroke-width="1.2"/><use href="#dm" x="1878.27" y="414.95" stroke-width="1.2"/><use href="#dm" x="1879.15" y="414.98" stroke-width="1.2"/><use href="#dm" x="1880.02" y="415.02" stroke-width="1.2"/><use href="#dm" x="1880.9" y="415.06" stroke-width="1.2"/><use href="#dm" x="1881.78" y="415.09" stroke-width="1.2"/><use href="#dm" x="1882.65" y="415.12" stroke-width="1.2"/><use href="#dm" x="1883.53" y="415.16" stroke-width="1.2"/><use href="#dm" x="1884.41" y="415.19" stroke-width="1.2"/><use href="#dm" x="1885.28" y="415.22" stroke-width="1.2"/><use href="#dm" x="1886.16" y="415.25" stroke-width="1.2"/><use href="#dm" x="1887.04" y="415.28" stroke-width="1.2"/><use href="#dm" x="1887.91" y="415.3" stroke-width="1.2"/><use href="#dm" x="1888.79" y="415.33" stroke-width="1.21"/><use href="#dm" x="1889.67" y="415.35" stroke-width="1.21"/><use href="#dm" x="1890.54" y="415.38" stroke-width="1.21"/><use href="#dm" x="1891.42" y="415.4" stroke-width="1.21"/><use href="#dm" x="1892.3" y="415.43" stroke-width="1.21"/><use href="#dm" x="1893.17" y="415.45" stroke-width="1.21"/><use href="#dm" x="1894.05" y="415.47" stroke-width="1.21"/><use href="#dm" x="1894.93" y="415.49" stroke-width="1.21"/><use href="#dm" x="1895.8" y="415.51" stroke-width="1.21"/><use href="#dm" x="1896.68" y="415.52" stroke-width="1.21"/><use href="#dm" x="1897.55" y="415.54" stroke-width="1.21"/><use href="#dm" x="1898.43" y="415.56" stroke-width="1.21"/><use href="#dm" x="1899.31" y="415.57" stroke-width="1.21"/><use href="#dm" x="1900.18" y="415.59" stroke-width="1.21"/><use href="#dm" x="1901.06" y="415.6" stroke-width="1.21"/><use href="#dm" x="1901.94" y="415.62" stroke-width="1.21"/><use href="#dm" x="1902.81" y="415.63" stroke-width="1.21"/><use href="#dm" x="1903.69" y="415.64" stroke-width="1.21"/><use href="#dm" x="1904.57" y="415.66" stroke-width="1.21"/><use href="#dm" x="1905.44" y="415.67" stroke-width="1.21"/><use href="#dm" x="1906.32" y="415.68" stroke-width="1.21"/><use href="#dm" x="1907.2" y="415.69" stroke-width="1.21"/><use href="#dm" x="1908.07" y="415.7" stroke-width="1.21"/><use href="#dm" x="1908.95" y="415.72" stroke-width="1.21"/><use href="#dm" x="1909.83" y="415.73" stroke-width="1.21"/><use href="#dm" x="1910.7" y="415.74" stroke-width="1.21"/><use href="#dm" x="1911.58" y="415.75" stroke-width="1.21"/><use href="#dm" x="1912.46" y="415.76" stroke-width="1.21"/><use href="#dm" x="1913.33" y="415.77" stroke-width="1.21"/><use href="#dm" x="1914.21" y="415.78" stroke-width="1.21"/><use href="#dm" x="1915.09" y="415.8" stroke-width="1.21"/><use href="#dm" x="1915.96" y="415.81" stroke-width="1.21"/><use href="#dm" x="1916.84" y="415.82" stroke-width="1.21"/><use href="#dm" x="1917.72" y="415.83" stroke-width="1.21"/><use href="#dm" x="1918.59" y="415.84" stroke-width="1.21"/><use href="#dm" x="1919.47" y="415.86" stroke-width="1.21"/><use href="#dm" x="1920.35" y="415.87" stroke-width="1.21"/><use href="#dm" x="1921.22" y="415.88" stroke-width="1.21"/><use href="#dm" x="1922.1" y="415.9" stroke-width="1.21"/><use href="#dm" x="1922.98" y="415.92" stroke-width="1.21"/><use href="#dm" x="1923.85" y="415.93" stroke-width="1.21"/><use href="#dm" x="1924.73" y="415.95" stroke-width="1.21"/><use href="#dm" x="1925.6" y="415.97" stroke-width="1.21"/><use href="#dm" x="1926.48" y="415.98" stroke-width="1.21"/><use href="#dm" x="1927.36" y="416" stroke-width="1.21"/><use href="#dm" x="1928.23" y="416.02" stroke-width="1.21"/><use href="#dm" x="1929.11" y="416.04" stroke-width="1.21"/><use href="#dm" x="1929.99" y="416.05" stroke-width="1.21"/><use href="#dm" x="1930.86" y="416.07" stroke-width="1.21"/><use href="#dm" x="1931.74" y="416.09" stroke-width="1.21"/><use href="#dm" x="1932.62" y="416.1" stroke-width="1.21"/><use href="#dm" x="1933.49" y="416.12" stroke-width="1.21"/><use href="#dm" x="1934.37" y="416.14" stroke-width="1.21"/><use href="#dm" x="1935.25" y="416.15" stroke-width="1.21"/><use href="#dm" x="1936.12" y="416.17" stroke-width="1.21"/><use href="#dm" x="1937" y="416.18" stroke-width="1.21"/><use href="#dm" x="1937.88" y="416.19" stroke-width="1.21"/><use href="#dm" x="1938.75" y="416.2" stroke-width="1.21"/><use href="#dm" x="1939.63" y="416.21" stroke-width="1.21"/><use href="#dm" x="1940.51" y="416.22" stroke-width="1.22"/><use href="#dm" x="1941.38" y="416.23" stroke-width="1.22"/><use href="#dm" x="1942.26" y="416.23" stroke-width="1.22"/><use href="#dm" x="1943.14" y="416.24" stroke-width="1.22"/><use href="#dm" x="1944.01" y="416.24" stroke-width="1.22"/><use href="#dm" x="1944.89" y="416.24" stroke-width="1.22"/>
<path d="M1944.89 412.24l4 4l-4 4l-4 -4z" fill="#fff" stroke="none"/>
<text x="1466.22" y="43" font-size="39.21" textLength="19.61" lengthAdjust="spacingAndGlyphs" fill="#000" font-weight="bold">c</text>
<text x="1411.05" y="461" font-size="38" textLength="65.94" lengthAdjust="spacingAndGlyphs" fill="#000">300</text>
<text x="1536.57" y="461" font-size="38" textLength="65.94" lengthAdjust="spacingAndGlyphs" fill="#000">400</text>
<text x="1661.46" y="461" font-size="38" textLength="65.94" lengthAdjust="spacingAndGlyphs" fill="#000">500</text>
<text x="1786.47" y="461" font-size="38" textLength="65.94" lengthAdjust="spacingAndGlyphs" fill="#000">600</text>
<text x="1911.68" y="461" font-size="38" textLength="65.94" lengthAdjust="spacingAndGlyphs" fill="#000">700</text>
<text x="1577.83" y="504.8" font-size="37.71" textLength="298.3" lengthAdjust="spacingAndGlyphs" fill="#000">Wavelength (nm)</text>
<text x="-358.54" y="1418.1" font-size="39.11" textLength="309.9" lengthAdjust="spacingAndGlyphs" fill="#000" transform="rotate(-90)">EL Intensity (a.u.)</text>
<g clip-path="url(#clipD)">
<polyline points="260.5,946 269.96,848.3 282.67,791.7 295.38,757.2 308.08,732.2 320.78,713.8 333.49,699.7 346.19,687.8 358.9,678.2 371.61,670 384.31,661.5 397.01,655.3 409.72,649 422.43,643.2 435.13,637.7 447.84,632 460.54,627.5 473.25,622.8 485.95,618.1 498.66,613.8 511.36,609.9 524.06,606 536.77,602.3 549.48,598.7 562.18,594.8 574.88,591.7 587.59,588.8 600.29,586.8 613,585" fill="none" stroke="#00ff00" stroke-width="1" stroke-linejoin="round"/>
<polyline points="104.8,946.3 117.5,946.3 130.21,946.3 142.91,946.3 155.62,946.3 168.32,946.3 181.03,946.3 193.73,946.3 206.44,946.3 219.14,946.3 231.85,946.3 244.56,946.3 257.26,946.3 269.96,946.3 282.67,946.3 295.38,946.3 308.08,944.1 320.78,943.7 333.49,942.4 346.19,940.6 358.9,938.5 371.61,935.9 384.31,932.2 397.01,928.2 409.72,923 422.43,917.4 435.13,910.3 447.84,902.5 460.54,893.3 473.25,882.1 485.95,869.8 498.66,855.6 511.36,839.5 524.06,820.5 536.77,798.6 549.48,773.4 562.18,744.6 574.88,710.3 587.59,670.2 600.29,622.8 613,560" fill="none" stroke="#ff0000" stroke-width="1" stroke-linejoin="round"/>
</g>
<line x1="104.3" y1="565.6" x2="613" y2="565.6" stroke="#000" stroke-width="1.6"/>
<line x1="103.5" y1="946" x2="613" y2="946" stroke="#000" stroke-width="1.6"/>
<line x1="104.3" y1="571.5" x2="104.3" y2="946.8" stroke="#ff0000" stroke-width="1.6"/>
<line x1="613" y1="564.8" x2="613" y2="946.8" stroke="#00ff00" stroke-width="1.6"/>
<line x1="168.32" y1="565.6" x2="168.32" y2="570.3" stroke="#000" stroke-width="1.5"/>
<line x1="231.85" y1="565.6" x2="231.85" y2="574.3" stroke="#000" stroke-width="1.5"/>
<line x1="295.38" y1="565.6" x2="295.38" y2="570.3" stroke="#000" stroke-width="1.5"/>
<line x1="358.9" y1="565.6" x2="358.9" y2="574.3" stroke="#000" stroke-width="1.5"/>
<line x1="422.43" y1="565.6" x2="422.43" y2="570.3" stroke="#000" stroke-width="1.5"/>
<line x1="485.95" y1="565.6" x2="485.95" y2="574.3" stroke="#000" stroke-width="1.5"/>
<line x1="549.48" y1="565.6" x2="549.48" y2="570.3" stroke="#000" stroke-width="1.5"/>
<line x1="136.56" y1="946" x2="136.56" y2="942.5" stroke="#000" stroke-width="1.5"/>
<line x1="168.32" y1="946" x2="168.32" y2="939" stroke="#000" stroke-width="1.5"/>
<line x1="200.09" y1="946" x2="200.09" y2="942.5" stroke="#000" stroke-width="1.5"/>
<line x1="231.85" y1="946" x2="231.85" y2="939" stroke="#000" stroke-width="1.5"/>
<line x1="263.61" y1="946" x2="263.61" y2="942.5" stroke="#000" stroke-width="1.5"/>
<line x1="295.38" y1="946" x2="295.38" y2="939" stroke="#000" stroke-width="1.5"/>
<line x1="327.14" y1="946" x2="327.14" y2="942.5" stroke="#000" stroke-width="1.5"/>
<line x1="358.9" y1="946" x2="358.9" y2="939" stroke="#000" stroke-width="1.5"/>
<line x1="390.66" y1="946" x2="390.66" y2="942.5" stroke="#000" stroke-width="1.5"/>
<line x1="422.43" y1="946" x2="422.43" y2="939" stroke="#000" stroke-width="1.5"/>
<line x1="454.19" y1="946" x2="454.19" y2="942.5" stroke="#000" stroke-width="1.5"/>
<line x1="485.95" y1="946" x2="485.95" y2="939" stroke="#000" stroke-width="1.5"/>
<line x1="517.71" y1="946" x2="517.71" y2="942.5" stroke="#000" stroke-width="1.5"/>
<line x1="549.48" y1="946" x2="549.48" y2="939" stroke="#000" stroke-width="1.5"/>
<line x1="581.24" y1="946" x2="581.24" y2="942.5" stroke="#000" stroke-width="1.5"/>
<line x1="104.3" y1="902.21" x2="109" y2="902.21" stroke="#ff0000" stroke-width="1.5"/>
<line x1="104.3" y1="858.33" x2="112.6" y2="858.33" stroke="#ff0000" stroke-width="1.5"/>
<line x1="104.3" y1="814.44" x2="109" y2="814.44" stroke="#ff0000" stroke-width="1.5"/>
<line x1="104.3" y1="770.55" x2="112.6" y2="770.55" stroke="#ff0000" stroke-width="1.5"/>
<line x1="104.3" y1="726.66" x2="109" y2="726.66" stroke="#ff0000" stroke-width="1.5"/>
<line x1="104.3" y1="682.78" x2="112.6" y2="682.78" stroke="#ff0000" stroke-width="1.5"/>
<line x1="104.3" y1="638.89" x2="109" y2="638.89" stroke="#ff0000" stroke-width="1.5"/>
<line x1="104.3" y1="595" x2="112.6" y2="595" stroke="#ff0000" stroke-width="1.5"/>
<line x1="613" y1="927.01" x2="609.8" y2="927.01" stroke="#00ff00" stroke-width="1.3"/>
<line x1="613" y1="915.84" x2="609.8" y2="915.84" stroke="#00ff00" stroke-width="1.3"/>
<line x1="613" y1="907.92" x2="609.8" y2="907.92" stroke="#00ff00" stroke-width="1.3"/>
<line x1="613" y1="901.77" x2="609.8" y2="901.77" stroke="#00ff00" stroke-width="1.3"/>
<line x1="613" y1="896.75" x2="609.8" y2="896.75" stroke="#00ff00" stroke-width="1.3"/>
<line x1="613" y1="892.51" x2="609.8" y2="892.51" stroke="#00ff00" stroke-width="1.3"/>
<line x1="613" y1="888.83" x2="609.8" y2="888.83" stroke="#00ff00" stroke-width="1.3"/>
<line x1="613" y1="885.59" x2="609.8" y2="885.59" stroke="#00ff00" stroke-width="1.3"/>
<line x1="613" y1="882.68" x2="606.5" y2="882.68" stroke="#00ff00" stroke-width="1.3"/>
<line x1="613" y1="863.59" x2="609.8" y2="863.59" stroke="#00ff00" stroke-width="1.3"/>
<line x1="613" y1="852.43" x2="609.8" y2="852.43" stroke="#00ff00" stroke-width="1.3"/>
<line x1="613" y1="844.5" x2="609.8" y2="844.5" stroke="#00ff00" stroke-width="1.3"/>
<line x1="613" y1="838.36" x2="609.8" y2="838.36" stroke="#00ff00" stroke-width="1.3"/>
<line x1="613" y1="833.34" x2="609.8" y2="833.34" stroke="#00ff00" stroke-width="1.3"/>
<line x1="613" y1="829.09" x2="609.8" y2="829.09" stroke="#00ff00" stroke-width="1.3"/>
<line x1="613" y1="825.41" x2="609.8" y2="825.41" stroke="#00ff00" stroke-width="1.3"/>
<line x1="613" y1="822.17" x2="609.8" y2="822.17" stroke="#00ff00" stroke-width="1.3"/>
<line x1="613" y1="819.27" x2="606.5" y2="819.27" stroke="#00ff00" stroke-width="1.3"/>
<line x1="613" y1="800.18" x2="609.8" y2="800.18" stroke="#00ff00" stroke-width="1.3"/>
<line x1="613" y1="789.01" x2="609.8" y2="789.01" stroke="#00ff00" stroke-width="1.3"/>
<line x1="613" y1="781.09" x2="609.8" y2="781.09" stroke="#00ff00" stroke-width="1.3"/>
<line x1="613" y1="774.94" x2="609.8" y2="774.94" stroke="#00ff00" stroke-width="1.3"/>
<line x1="613" y1="769.92" x2="609.8" y2="769.92" stroke="#00ff00" stroke-width="1.3"/>
<line x1="613" y1="765.67" x2="609.8" y2="765.67" stroke="#00ff00" stroke-width="1.3"/>
<line x1="613" y1="762" x2="609.8" y2="762" stroke="#00ff00" stroke-width="1.3"/>
<line x1="613" y1="758.75" x2="609.8" y2="758.75" stroke="#00ff00" stroke-width="1.3"/>
<line x1="613" y1="755.85" x2="606.5" y2="755.85" stroke="#00ff00" stroke-width="1.3"/>
<line x1="613" y1="736.76" x2="609.8" y2="736.76" stroke="#00ff00" stroke-width="1.3"/>
<line x1="613" y1="725.59" x2="609.8" y2="725.59" stroke="#00ff00" stroke-width="1.3"/>
<line x1="613" y1="717.67" x2="609.8" y2="717.67" stroke="#00ff00" stroke-width="1.3"/>
<line x1="613" y1="711.52" x2="609.8" y2="711.52" stroke="#00ff00" stroke-width="1.3"/>
<line x1="613" y1="706.5" x2="609.8" y2="706.5" stroke="#00ff00" stroke-width="1.3"/>
<line x1="613" y1="702.26" x2="609.8" y2="702.26" stroke="#00ff00" stroke-width="1.3"/>
<line x1="613" y1="698.58" x2="609.8" y2="698.58" stroke="#00ff00" stroke-width="1.3"/>
<line x1="613" y1="695.34" x2="609.8" y2="695.34" stroke="#00ff00" stroke-width="1.3"/>
<line x1="613" y1="692.43" x2="606.5" y2="692.43" stroke="#00ff00" stroke-width="1.3"/>
<line x1="613" y1="673.34" x2="609.8" y2="673.34" stroke="#00ff00" stroke-width="1.3"/>
<line x1="613" y1="662.18" x2="609.8" y2="662.18" stroke="#00ff00" stroke-width="1.3"/>
<line x1="613" y1="654.25" x2="609.8" y2="654.25" stroke="#00ff00" stroke-width="1.3"/>
<line x1="613" y1="648.11" x2="609.8" y2="648.11" stroke="#00ff00" stroke-width="1.3"/>
<line x1="613" y1="643.09" x2="609.8" y2="643.09" stroke="#00ff00" stroke-width="1.3"/>
<line x1="613" y1="638.84" x2="609.8" y2="638.84" stroke="#00ff00" stroke-width="1.3"/>
<line x1="613" y1="635.16" x2="609.8" y2="635.16" stroke="#00ff00" stroke-width="1.3"/>
<line x1="613" y1="631.92" x2="609.8" y2="631.92" stroke="#00ff00" stroke-width="1.3"/>
<line x1="613" y1="629.02" x2="606.5" y2="629.02" stroke="#00ff00" stroke-width="1.3"/>
<line x1="613" y1="609.93" x2="609.8" y2="609.93" stroke="#00ff00" stroke-width="1.3"/>
<line x1="613" y1="598.76" x2="609.8" y2="598.76" stroke="#00ff00" stroke-width="1.3"/>
<line x1="613" y1="590.84" x2="609.8" y2="590.84" stroke="#00ff00" stroke-width="1.3"/>
<line x1="613" y1="584.69" x2="609.8" y2="584.69" stroke="#00ff00" stroke-width="1.3"/>
<line x1="613" y1="579.67" x2="609.8" y2="579.67" stroke="#00ff00" stroke-width="1.3"/>
<line x1="613" y1="575.42" x2="609.8" y2="575.42" stroke="#00ff00" stroke-width="1.3"/>
<line x1="613" y1="571.75" x2="609.8" y2="571.75" stroke="#00ff00" stroke-width="1.3"/>
<line x1="613" y1="568.5" x2="609.8" y2="568.5" stroke="#00ff00" stroke-width="1.3"/>
<g clip-path="url(#clipD)">
<path d="M265.46 843.8h9v9h-9zM278.17 787.2h9v9h-9zM290.88 752.7h9v9h-9zM303.58 727.7h9v9h-9zM316.28 709.3h9v9h-9zM328.99 695.2h9v9h-9zM341.69 683.3h9v9h-9zM354.4 673.7h9v9h-9zM367.11 665.5h9v9h-9zM379.81 657h9v9h-9zM392.51 650.8h9v9h-9zM405.22 644.5h9v9h-9zM417.93 638.7h9v9h-9zM430.63 633.2h9v9h-9zM443.34 627.5h9v9h-9zM456.04 623h9v9h-9zM468.75 618.3h9v9h-9zM481.45 613.6h9v9h-9zM494.16 609.3h9v9h-9zM506.86 605.4h9v9h-9zM519.56 601.5h9v9h-9zM532.27 597.8h9v9h-9zM544.98 594.2h9v9h-9zM557.68 590.3h9v9h-9zM570.38 587.2h9v9h-9zM583.09 584.3h9v9h-9zM595.79 582.3h9v9h-9z" fill="#00ff00"/>
<path d="M100.3 941.8h9v9h-9zM113 941.8h9v9h-9zM125.71 941.8h9v9h-9zM138.41 941.8h9v9h-9zM151.12 941.8h9v9h-9zM163.82 941.8h9v9h-9zM176.53 941.8h9v9h-9zM189.23 941.8h9v9h-9zM201.94 941.8h9v9h-9zM214.64 941.8h9v9h-9zM227.35 941.8h9v9h-9zM240.06 941.8h9v9h-9zM252.76 941.8h9v9h-9zM265.46 941.8h9v9h-9zM278.17 941.8h9v9h-9zM290.88 941.8h9v9h-9zM303.58 939.6h9v9h-9zM316.28 939.2h9v9h-9zM328.99 937.9h9v9h-9zM341.69 936.1h9v9h-9zM354.4 934h9v9h-9zM367.11 931.4h9v9h-9zM379.81 927.7h9v9h-9zM392.51 923.7h9v9h-9zM405.22 918.5h9v9h-9zM417.93 912.9h9v9h-9zM430.63 905.8h9v9h-9zM443.34 898h9v9h-9zM456.04 888.8h9v9h-9zM468.75 877.6h9v9h-9zM481.45 865.3h9v9h-9zM494.16 851.1h9v9h-9zM506.86 835h9v9h-9zM519.56 816h9v9h-9zM532.27 794.1h9v9h-9zM544.98 768.9h9v9h-9zM557.68 740.1h9v9h-9zM570.38 705.8h9v9h-9zM583.09 665.7h9v9h-9zM595.79 618.3h9v9h-9z" fill="#ff0000"/>
</g>
<text x="115.67" y="603.4" font-size="40.57" textLength="25.7" lengthAdjust="spacingAndGlyphs" fill="#000" font-weight="bold">d</text>
<text x="77.46" y="955" font-size="30.5" textLength="17.47" lengthAdjust="spacingAndGlyphs" fill="#ff0000">0</text>
<text x="59.98" y="867.23" font-size="30.5" textLength="34.94" lengthAdjust="spacingAndGlyphs" fill="#ff0000">30</text>
<text x="59.98" y="779.45" font-size="30.5" textLength="34.94" lengthAdjust="spacingAndGlyphs" fill="#ff0000">60</text>
<text x="59.98" y="691.68" font-size="30.5" textLength="34.94" lengthAdjust="spacingAndGlyphs" fill="#ff0000">90</text>
<text x="42.51" y="603.9" font-size="30.5" textLength="52.41" lengthAdjust="spacingAndGlyphs" fill="#ff0000">120</text>
<text x="96.06" y="978.3" font-size="30.5" textLength="17.47" lengthAdjust="spacingAndGlyphs" fill="#000">0</text>
<text x="159.16" y="978.3" font-size="30.5" textLength="17.47" lengthAdjust="spacingAndGlyphs" fill="#000">1</text>
<text x="223.11" y="978.3" font-size="30.5" textLength="17.47" lengthAdjust="spacingAndGlyphs" fill="#000">2</text>
<text x="286.73" y="978.3" font-size="30.5" textLength="17.47" lengthAdjust="spacingAndGlyphs" fill="#000">3</text>
<text x="350.26" y="978.3" font-size="30.5" textLength="17.47" lengthAdjust="spacingAndGlyphs" fill="#000">4</text>
<text x="413.72" y="978.3" font-size="30.5" textLength="17.47" lengthAdjust="spacingAndGlyphs" fill="#000">5</text>
<text x="477.11" y="978.3" font-size="30.5" textLength="17.47" lengthAdjust="spacingAndGlyphs" fill="#000">6</text>
<text x="540.72" y="978.3" font-size="30.5" textLength="17.47" lengthAdjust="spacingAndGlyphs" fill="#000">7</text>
<text x="604.26" y="978.3" font-size="30.5" textLength="17.47" lengthAdjust="spacingAndGlyphs" fill="#000">8</text>
<text x="295.86" y="1012.4" font-size="31.42" textLength="163.37" lengthAdjust="spacingAndGlyphs" fill="#000">Voltage (V)</text>
<text x="622.21" y="958.8" font-size="31.94" textLength="36.37" lengthAdjust="spacingAndGlyphs" fill="#00ff00">10</text>
<text x="658.3" y="941.2" font-size="18" textLength="14.08" lengthAdjust="spacingAndGlyphs" fill="#00ff00">-1</text>
<text x="622.21" y="831.97" font-size="31.94" textLength="36.37" lengthAdjust="spacingAndGlyphs" fill="#00ff00">10</text>
<text x="657.5" y="814.37" font-size="18" textLength="10.96" lengthAdjust="spacingAndGlyphs" fill="#00ff00">1</text>
<text x="622.21" y="705.13" font-size="31.94" textLength="36.37" lengthAdjust="spacingAndGlyphs" fill="#00ff00">10</text>
<text x="658.32" y="687.53" font-size="18" textLength="9.97" lengthAdjust="spacingAndGlyphs" fill="#00ff00">3</text>
<text x="622.21" y="578.3" font-size="31.94" textLength="36.37" lengthAdjust="spacingAndGlyphs" fill="#00ff00">10</text>
<text x="658.28" y="560.7" font-size="18" textLength="9.97" lengthAdjust="spacingAndGlyphs" fill="#00ff00">5</text>
<text x="-946.65" y="32.6" font-size="32.26" textLength="341.49" lengthAdjust="spacingAndGlyphs" fill="#ff0000" transform="rotate(-90)">Current density (mA cm</text>
<text x="-604.68" y="14.8" font-size="19" textLength="17.57" lengthAdjust="spacingAndGlyphs" fill="#ff0000" transform="rotate(-90)">-2</text>
<text x="-585.48" y="32.6" font-size="32.5" textLength="10.42" lengthAdjust="spacingAndGlyphs" fill="#ff0000" transform="rotate(-90)">)</text>
<text x="-904.96" y="698.6" font-size="32.68" textLength="248.9" lengthAdjust="spacingAndGlyphs" fill="#00ff00" transform="rotate(-90)">Luminance (cd m</text>
<text x="-654.65" y="680.5" font-size="19" textLength="17.01" lengthAdjust="spacingAndGlyphs" fill="#00ff00" transform="rotate(-90)">-2</text>
<text x="-635.86" y="698.6" font-size="32.5" textLength="9.17" lengthAdjust="spacingAndGlyphs" fill="#00ff00" transform="rotate(-90)">)</text>
<line x1="909.3" y1="574" x2="909.3" y2="946" stroke="#111" stroke-width="1.3" stroke-dasharray="17.5 5.8"/>
<line x1="999" y1="576.9" x2="999" y2="946" stroke="#111" stroke-width="1.3" stroke-dasharray="17.5 5.8"/>
<line x1="1088.7" y1="574" x2="1088.7" y2="946" stroke="#111" stroke-width="1.3" stroke-dasharray="17.5 5.8"/>
<line x1="1178.4" y1="576" x2="1178.4" y2="946" stroke="#111" stroke-width="1.3" stroke-dasharray="17.5 5.8"/>
<line x1="1268.1" y1="574" x2="1268.1" y2="946" stroke="#111" stroke-width="1.3" stroke-dasharray="17.5 5.8"/>
<g clip-path="url(#clipE)">
<polyline points="820.6,623.2 870,622.5 909,621.8 959.4,621.5 1037.9,622 1087.9,624.6 1122.8,624.4 1149.1,625.3 1169.1,626.1 1185.8,627.2 1199.5,628 1211.1,628.5 1222.1,629.3 1232.6,630.1 1241.5,630.6 1253.5,632.1 1268.3,633.3 1284.8,636.8 1300.4,640.7 1314.5,645.4 1325.5,651.6 1327.8,659.5 1328.6,672" fill="none" stroke="#ff0000" stroke-width="1.4" stroke-linejoin="round"/>
<polyline points="820.6,608.8 870,608 909,607.3 940,606.8 959.4,606.5 1000,609.5 1037.9,613.9 1087.3,620.4 1123.3,626 1149.1,631.7 1169.1,637.4 1185.8,642.2 1199.5,646.2 1211.1,651.1 1222.1,655.1 1233.1,659.2 1245.6,665.7 1261.3,673.6 1275.4,681.4 1289.5,689.2 1303.6,698.6 1317.6,709.5 1327.8,718.9 1328.6,729.9 1328.6,741.6" fill="none" stroke="#00ff00" stroke-width="1.4" stroke-linejoin="round"/>
<path d="M955.1 602.2h8.6v8.6h-8.6zM1033.6 609.6h8.6v8.6h-8.6zM1083.3 616.15h8.6v8.6h-8.6zM1118.7 621.65h8.6v8.6h-8.6zM1144.8 627.4h8.6v8.6h-8.6zM1164.8 633.1h8.6v8.6h-8.6zM1181.5 637.9h8.6v8.6h-8.6zM1195.2 641.9h8.6v8.6h-8.6zM1206.8 646.8h8.6v8.6h-8.6zM1217.8 650.8h8.6v8.6h-8.6zM1228.3 654.71h8.6v8.6h-8.6zM1237.2 659.27h8.6v8.6h-8.6zM1244.1 662.81h8.6v8.6h-8.6zM1251 666.28h8.6v8.6h-8.6zM1257.9 669.8h8.6v8.6h-8.6zM1264.8 673.61h8.6v8.6h-8.6zM1271.7 677.43h8.6v8.6h-8.6zM1278.6 681.25h8.6v8.6h-8.6zM1285.5 685.1h8.6v8.6h-8.6zM1292.4 689.7h8.6v8.6h-8.6zM1299.3 694.3h8.6v8.6h-8.6zM1306.2 699.67h8.6v8.6h-8.6zM1313.1 705.04h8.6v8.6h-8.6zM1320 711.37h8.6v8.6h-8.6zM1324.3 725.6h8.6v8.6h-8.6zM1324.3 737.3h8.6v8.6h-8.6z" fill="#00ff00"/>
<path d="M955.1 617.2h8.6v8.6h-8.6zM1033.6 617.7h8.6v8.6h-8.6zM1083.3 620.28h8.6v8.6h-8.6zM1118.7 620.11h8.6v8.6h-8.6zM1144.8 621h8.6v8.6h-8.6zM1164.8 621.8h8.6v8.6h-8.6zM1181.5 622.9h8.6v8.6h-8.6zM1195.2 623.7h8.6v8.6h-8.6zM1206.8 624.2h8.6v8.6h-8.6zM1217.8 625h8.6v8.6h-8.6zM1228.3 625.8h8.6v8.6h-8.6zM1237.2 626.3h8.6v8.6h-8.6zM1244.1 627.16h8.6v8.6h-8.6zM1251 627.95h8.6v8.6h-8.6zM1257.9 628.51h8.6v8.6h-8.6zM1264.8 629.17h8.6v8.6h-8.6zM1271.7 630.63h8.6v8.6h-8.6zM1278.6 632.1h8.6v8.6h-8.6zM1285.5 633.75h8.6v8.6h-8.6zM1292.4 635.48h8.6v8.6h-8.6zM1299.3 637.47h8.6v8.6h-8.6zM1306.2 639.77h8.6v8.6h-8.6zM1313.1 642.73h8.6v8.6h-8.6zM1320 646.62h8.6v8.6h-8.6zM1324.3 655.7h8.6v8.6h-8.6zM1324.3 667.7h8.6v8.6h-8.6z" fill="#ff0000"/>
</g>
<line x1="820.6" y1="565.6" x2="1330.8" y2="565.6" stroke="#000" stroke-width="1.4"/>
<line x1="820.6" y1="946" x2="1330.8" y2="946" stroke="#555" stroke-width="1.7"/>
<line x1="820.6" y1="569.6" x2="820.6" y2="946" stroke="#ff0000" stroke-width="1.3"/>
<line x1="1330.8" y1="565.6" x2="1330.8" y2="946" stroke="#00ff00" stroke-width="1.3"/>
<line x1="846.6" y1="565.6" x2="846.6" y2="568.6" stroke="#000" stroke-width="1.2"/>
<line x1="862.4" y1="565.6" x2="862.4" y2="568.6" stroke="#000" stroke-width="1.2"/>
<line x1="873.6" y1="565.6" x2="873.6" y2="568.6" stroke="#000" stroke-width="1.2"/>
<line x1="882.3" y1="565.6" x2="882.3" y2="568.6" stroke="#000" stroke-width="1.2"/>
<line x1="889.4" y1="565.6" x2="889.4" y2="568.6" stroke="#000" stroke-width="1.2"/>
<line x1="895.41" y1="565.6" x2="895.41" y2="568.6" stroke="#000" stroke-width="1.2"/>
<line x1="900.61" y1="565.6" x2="900.61" y2="568.6" stroke="#000" stroke-width="1.2"/>
<line x1="905.2" y1="565.6" x2="905.2" y2="568.6" stroke="#000" stroke-width="1.2"/>
<line x1="909.3" y1="565.6" x2="909.3" y2="570.6" stroke="#000" stroke-width="1.2"/>
<line x1="936.3" y1="565.6" x2="936.3" y2="568.6" stroke="#000" stroke-width="1.2"/>
<line x1="952.1" y1="565.6" x2="952.1" y2="568.6" stroke="#000" stroke-width="1.2"/>
<line x1="963.3" y1="565.6" x2="963.3" y2="568.6" stroke="#000" stroke-width="1.2"/>
<line x1="972" y1="565.6" x2="972" y2="568.6" stroke="#000" stroke-width="1.2"/>
<line x1="979.1" y1="565.6" x2="979.1" y2="568.6" stroke="#000" stroke-width="1.2"/>
<line x1="985.11" y1="565.6" x2="985.11" y2="568.6" stroke="#000" stroke-width="1.2"/>
<line x1="990.31" y1="565.6" x2="990.31" y2="568.6" stroke="#000" stroke-width="1.2"/>
<line x1="994.9" y1="565.6" x2="994.9" y2="568.6" stroke="#000" stroke-width="1.2"/>
<line x1="999" y1="565.6" x2="999" y2="570.6" stroke="#000" stroke-width="1.2"/>
<line x1="1026" y1="565.6" x2="1026" y2="568.6" stroke="#000" stroke-width="1.2"/>
<line x1="1041.8" y1="565.6" x2="1041.8" y2="568.6" stroke="#000" stroke-width="1.2"/>
<line x1="1053" y1="565.6" x2="1053" y2="568.6" stroke="#000" stroke-width="1.2"/>
<line x1="1061.7" y1="565.6" x2="1061.7" y2="568.6" stroke="#000" stroke-width="1.2"/>
<line x1="1068.8" y1="565.6" x2="1068.8" y2="568.6" stroke="#000" stroke-width="1.2"/>
<line x1="1074.81" y1="565.6" x2="1074.81" y2="568.6" stroke="#000" stroke-width="1.2"/>
<line x1="1080.01" y1="565.6" x2="1080.01" y2="568.6" stroke="#000" stroke-width="1.2"/>
<line x1="1084.6" y1="565.6" x2="1084.6" y2="568.6" stroke="#000" stroke-width="1.2"/>
<line x1="1088.7" y1="565.6" x2="1088.7" y2="570.6" stroke="#000" stroke-width="1.2"/>
<line x1="1115.7" y1="565.6" x2="1115.7" y2="568.6" stroke="#000" stroke-width="1.2"/>
<line x1="1131.5" y1="565.6" x2="1131.5" y2="568.6" stroke="#000" stroke-width="1.2"/>
<line x1="1142.7" y1="565.6" x2="1142.7" y2="568.6" stroke="#000" stroke-width="1.2"/>
<line x1="1151.4" y1="565.6" x2="1151.4" y2="568.6" stroke="#000" stroke-width="1.2"/>
<line x1="1158.5" y1="565.6" x2="1158.5" y2="568.6" stroke="#000" stroke-width="1.2"/>
<line x1="1164.51" y1="565.6" x2="1164.51" y2="568.6" stroke="#000" stroke-width="1.2"/>
<line x1="1169.71" y1="565.6" x2="1169.71" y2="568.6" stroke="#000" stroke-width="1.2"/>
<line x1="1174.3" y1="565.6" x2="1174.3" y2="568.6" stroke="#000" stroke-width="1.2"/>
<line x1="1178.4" y1="565.6" x2="1178.4" y2="570.6" stroke="#000" stroke-width="1.2"/>
<line x1="1205.4" y1="565.6" x2="1205.4" y2="568.6" stroke="#000" stroke-width="1.2"/>
<line x1="1221.2" y1="565.6" x2="1221.2" y2="568.6" stroke="#000" stroke-width="1.2"/>
<line x1="1232.4" y1="565.6" x2="1232.4" y2="568.6" stroke="#000" stroke-width="1.2"/>
<line x1="1241.1" y1="565.6" x2="1241.1" y2="568.6" stroke="#000" stroke-width="1.2"/>
<line x1="1248.2" y1="565.6" x2="1248.2" y2="568.6" stroke="#000" stroke-width="1.2"/>
<line x1="1254.21" y1="565.6" x2="1254.21" y2="568.6" stroke="#000" stroke-width="1.2"/>
<line x1="1259.41" y1="565.6" x2="1259.41" y2="568.6" stroke="#000" stroke-width="1.2"/>
<line x1="1264" y1="565.6" x2="1264" y2="568.6" stroke="#000" stroke-width="1.2"/>
<line x1="1268.1" y1="565.6" x2="1268.1" y2="570.6" stroke="#000" stroke-width="1.2"/>
<line x1="1295.1" y1="565.6" x2="1295.1" y2="568.6" stroke="#000" stroke-width="1.2"/>
<line x1="1310.9" y1="565.6" x2="1310.9" y2="568.6" stroke="#000" stroke-width="1.2"/>
<line x1="1322.1" y1="565.6" x2="1322.1" y2="568.6" stroke="#000" stroke-width="1.2"/>
<line x1="1330.8" y1="565.6" x2="1330.8" y2="568.6" stroke="#000" stroke-width="1.2"/>
<line x1="846.6" y1="946" x2="846.6" y2="943" stroke="#222" stroke-width="1.2"/>
<line x1="862.4" y1="946" x2="862.4" y2="943" stroke="#222" stroke-width="1.2"/>
<line x1="873.6" y1="946" x2="873.6" y2="943" stroke="#222" stroke-width="1.2"/>
<line x1="882.3" y1="946" x2="882.3" y2="943" stroke="#222" stroke-width="1.2"/>
<line x1="889.4" y1="946" x2="889.4" y2="943" stroke="#222" stroke-width="1.2"/>
<line x1="895.41" y1="946" x2="895.41" y2="943" stroke="#222" stroke-width="1.2"/>
<line x1="900.61" y1="946" x2="900.61" y2="943" stroke="#222" stroke-width="1.2"/>
<line x1="905.2" y1="946" x2="905.2" y2="943" stroke="#222" stroke-width="1.2"/>
<line x1="909.3" y1="946" x2="909.3" y2="940" stroke="#222" stroke-width="1.2"/>
<line x1="936.3" y1="946" x2="936.3" y2="943" stroke="#222" stroke-width="1.2"/>
<line x1="952.1" y1="946" x2="952.1" y2="943" stroke="#222" stroke-width="1.2"/>
<line x1="963.3" y1="946" x2="963.3" y2="943" stroke="#222" stroke-width="1.2"/>
<line x1="972" y1="946" x2="972" y2="943" stroke="#222" stroke-width="1.2"/>
<line x1="979.1" y1="946" x2="979.1" y2="943" stroke="#222" stroke-width="1.2"/>
<line x1="985.11" y1="946" x2="985.11" y2="943" stroke="#222" stroke-width="1.2"/>
<line x1="990.31" y1="946" x2="990.31" y2="943" stroke="#222" stroke-width="1.2"/>
<line x1="994.9" y1="946" x2="994.9" y2="943" stroke="#222" stroke-width="1.2"/>
<line x1="999" y1="946" x2="999" y2="940" stroke="#222" stroke-width="1.2"/>
<line x1="1026" y1="946" x2="1026" y2="943" stroke="#222" stroke-width="1.2"/>
<line x1="1041.8" y1="946" x2="1041.8" y2="943" stroke="#222" stroke-width="1.2"/>
<line x1="1053" y1="946" x2="1053" y2="943" stroke="#222" stroke-width="1.2"/>
<line x1="1061.7" y1="946" x2="1061.7" y2="943" stroke="#222" stroke-width="1.2"/>
<line x1="1068.8" y1="946" x2="1068.8" y2="943" stroke="#222" stroke-width="1.2"/>
<line x1="1074.81" y1="946" x2="1074.81" y2="943" stroke="#222" stroke-width="1.2"/>
<line x1="1080.01" y1="946" x2="1080.01" y2="943" stroke="#222" stroke-width="1.2"/>
<line x1="1084.6" y1="946" x2="1084.6" y2="943" stroke="#222" stroke-width="1.2"/>
<line x1="1088.7" y1="946" x2="1088.7" y2="940" stroke="#222" stroke-width="1.2"/>
<line x1="1115.7" y1="946" x2="1115.7" y2="943" stroke="#222" stroke-width="1.2"/>
<line x1="1131.5" y1="946" x2="1131.5" y2="943" stroke="#222" stroke-width="1.2"/>
<line x1="1142.7" y1="946" x2="1142.7" y2="943" stroke="#222" stroke-width="1.2"/>
<line x1="1151.4" y1="946" x2="1151.4" y2="943" stroke="#222" stroke-width="1.2"/>
<line x1="1158.5" y1="946" x2="1158.5" y2="943" stroke="#222" stroke-width="1.2"/>
<line x1="1164.51" y1="946" x2="1164.51" y2="943" stroke="#222" stroke-width="1.2"/>
<line x1="1169.71" y1="946" x2="1169.71" y2="943" stroke="#222" stroke-width="1.2"/>
<line x1="1174.3" y1="946" x2="1174.3" y2="943" stroke="#222" stroke-width="1.2"/>
<line x1="1178.4" y1="946" x2="1178.4" y2="940" stroke="#222" stroke-width="1.2"/>
<line x1="1205.4" y1="946" x2="1205.4" y2="943" stroke="#222" stroke-width="1.2"/>
<line x1="1221.2" y1="946" x2="1221.2" y2="943" stroke="#222" stroke-width="1.2"/>
<line x1="1232.4" y1="946" x2="1232.4" y2="943" stroke="#222" stroke-width="1.2"/>
<line x1="1241.1" y1="946" x2="1241.1" y2="943" stroke="#222" stroke-width="1.2"/>
<line x1="1248.2" y1="946" x2="1248.2" y2="943" stroke="#222" stroke-width="1.2"/>
<line x1="1254.21" y1="946" x2="1254.21" y2="943" stroke="#222" stroke-width="1.2"/>
<line x1="1259.41" y1="946" x2="1259.41" y2="943" stroke="#222" stroke-width="1.2"/>
<line x1="1264" y1="946" x2="1264" y2="943" stroke="#222" stroke-width="1.2"/>
<line x1="1268.1" y1="946" x2="1268.1" y2="940" stroke="#222" stroke-width="1.2"/>
<line x1="1295.1" y1="946" x2="1295.1" y2="943" stroke="#222" stroke-width="1.2"/>
<line x1="1310.9" y1="946" x2="1310.9" y2="943" stroke="#222" stroke-width="1.2"/>
<line x1="1322.1" y1="946" x2="1322.1" y2="943" stroke="#222" stroke-width="1.2"/>
<line x1="1330.8" y1="946" x2="1330.8" y2="943" stroke="#222" stroke-width="1.2"/>
<line x1="820.6" y1="944.9" x2="826.9" y2="944.9" stroke="#ff0000" stroke-width="1.2"/>
<line x1="820.6" y1="892.37" x2="824.1" y2="892.37" stroke="#ff0000" stroke-width="1.2"/>
<line x1="820.6" y1="861.64" x2="824.1" y2="861.64" stroke="#ff0000" stroke-width="1.2"/>
<line x1="820.6" y1="839.84" x2="824.1" y2="839.84" stroke="#ff0000" stroke-width="1.2"/>
<line x1="820.6" y1="822.93" x2="824.1" y2="822.93" stroke="#ff0000" stroke-width="1.2"/>
<line x1="820.6" y1="809.11" x2="824.1" y2="809.11" stroke="#ff0000" stroke-width="1.2"/>
<line x1="820.6" y1="797.43" x2="824.1" y2="797.43" stroke="#ff0000" stroke-width="1.2"/>
<line x1="820.6" y1="787.31" x2="824.1" y2="787.31" stroke="#ff0000" stroke-width="1.2"/>
<line x1="820.6" y1="778.38" x2="824.1" y2="778.38" stroke="#ff0000" stroke-width="1.2"/>
<line x1="820.6" y1="770.4" x2="826.9" y2="770.4" stroke="#ff0000" stroke-width="1.2"/>
<line x1="820.6" y1="717.87" x2="824.1" y2="717.87" stroke="#ff0000" stroke-width="1.2"/>
<line x1="820.6" y1="687.14" x2="824.1" y2="687.14" stroke="#ff0000" stroke-width="1.2"/>
<line x1="820.6" y1="665.34" x2="824.1" y2="665.34" stroke="#ff0000" stroke-width="1.2"/>
<line x1="820.6" y1="648.43" x2="824.1" y2="648.43" stroke="#ff0000" stroke-width="1.2"/>
<line x1="820.6" y1="634.61" x2="824.1" y2="634.61" stroke="#ff0000" stroke-width="1.2"/>
<line x1="820.6" y1="622.93" x2="824.1" y2="622.93" stroke="#ff0000" stroke-width="1.2"/>
<line x1="820.6" y1="612.81" x2="824.1" y2="612.81" stroke="#ff0000" stroke-width="1.2"/>
<line x1="820.6" y1="603.88" x2="824.1" y2="603.88" stroke="#ff0000" stroke-width="1.2"/>
<line x1="820.6" y1="595.9" x2="826.9" y2="595.9" stroke="#ff0000" stroke-width="1.2"/>
<line x1="1330.8" y1="944.9" x2="1323.5" y2="944.9" stroke="#00ff00" stroke-width="1.2"/>
<line x1="1330.8" y1="892.37" x2="1327.3" y2="892.37" stroke="#00ff00" stroke-width="1.2"/>
<line x1="1330.8" y1="861.64" x2="1327.3" y2="861.64" stroke="#00ff00" stroke-width="1.2"/>
<line x1="1330.8" y1="839.84" x2="1327.3" y2="839.84" stroke="#00ff00" stroke-width="1.2"/>
<line x1="1330.8" y1="822.93" x2="1327.3" y2="822.93" stroke="#00ff00" stroke-width="1.2"/>
<line x1="1330.8" y1="809.11" x2="1327.3" y2="809.11" stroke="#00ff00" stroke-width="1.2"/>
<line x1="1330.8" y1="797.43" x2="1327.3" y2="797.43" stroke="#00ff00" stroke-width="1.2"/>
<line x1="1330.8" y1="787.31" x2="1327.3" y2="787.31" stroke="#00ff00" stroke-width="1.2"/>
<line x1="1330.8" y1="778.38" x2="1327.3" y2="778.38" stroke="#00ff00" stroke-width="1.2"/>
<line x1="1330.8" y1="770.4" x2="1323.5" y2="770.4" stroke="#00ff00" stroke-width="1.2"/>
<line x1="1330.8" y1="717.87" x2="1327.3" y2="717.87" stroke="#00ff00" stroke-width="1.2"/>
<line x1="1330.8" y1="687.14" x2="1327.3" y2="687.14" stroke="#00ff00" stroke-width="1.2"/>
<line x1="1330.8" y1="665.34" x2="1327.3" y2="665.34" stroke="#00ff00" stroke-width="1.2"/>
<line x1="1330.8" y1="648.43" x2="1327.3" y2="648.43" stroke="#00ff00" stroke-width="1.2"/>
<line x1="1330.8" y1="634.61" x2="1327.3" y2="634.61" stroke="#00ff00" stroke-width="1.2"/>
<line x1="1330.8" y1="622.93" x2="1327.3" y2="622.93" stroke="#00ff00" stroke-width="1.2"/>
<line x1="1330.8" y1="612.81" x2="1327.3" y2="612.81" stroke="#00ff00" stroke-width="1.2"/>
<line x1="1330.8" y1="603.88" x2="1327.3" y2="603.88" stroke="#00ff00" stroke-width="1.2"/>
<line x1="1330.8" y1="595.9" x2="1323.5" y2="595.9" stroke="#00ff00" stroke-width="1.2"/>
<text x="827.4" y="594.6" font-size="40.51" textLength="22.8" lengthAdjust="spacingAndGlyphs" fill="#000" font-weight="bold">e</text>
<text x="917.31" y="597.8" font-size="24.5" textLength="48.85" lengthAdjust="spacingAndGlyphs" fill="#00ff00">87.2</text>
<text x="922.29" y="646.7" font-size="24.5" textLength="46" lengthAdjust="spacingAndGlyphs" fill="#ff0000">72.2</text>
<text x="1023.17" y="603.9" font-size="24.5" textLength="46.79" lengthAdjust="spacingAndGlyphs" fill="#00ff00">72.6</text>
<text x="1021.24" y="655.9" font-size="24.5" textLength="48.41" lengthAdjust="spacingAndGlyphs" fill="#ff0000">68.2</text>
<text x="1110.28" y="607" font-size="24.5" textLength="46.83" lengthAdjust="spacingAndGlyphs" fill="#ff0000">66.7</text>
<text x="1200.89" y="612.7" font-size="24.5" textLength="49.11" lengthAdjust="spacingAndGlyphs" fill="#ff0000">58.9</text>
<text x="1108.96" y="664" font-size="24.5" textLength="45.69" lengthAdjust="spacingAndGlyphs" fill="#00ff00">56.1</text>
<text x="1198.26" y="699.5" font-size="24.5" textLength="47.98" lengthAdjust="spacingAndGlyphs" fill="#00ff00">34.7</text>
<text x="760.7" y="605.2" font-size="31.8" textLength="54.68" lengthAdjust="spacingAndGlyphs" fill="#ff0000">100</text>
<text x="779.42" y="780" font-size="31.8" textLength="36.26" lengthAdjust="spacingAndGlyphs" fill="#ff0000">10</text>
<text x="815.7" y="954.5" font-size="31.8" fill="#ff0000" text-anchor="end">1</text>
<text x="1334.52" y="604.5" font-size="31.8" textLength="54.35" lengthAdjust="spacingAndGlyphs" fill="#00ff00">100</text>
<text x="1334.94" y="780" font-size="31.8" textLength="35.92" lengthAdjust="spacingAndGlyphs" fill="#00ff00">10</text>
<text x="1334" y="954.5" font-size="31.8" fill="#00ff00">1</text>
<text x="792.66" y="986.4" font-size="31.4" textLength="35.59" lengthAdjust="spacingAndGlyphs" fill="#000">10</text>
<text x="827.77" y="967.9" font-size="19.4" textLength="16.65" lengthAdjust="spacingAndGlyphs" fill="#000">-1</text>
<text x="885.5" y="986.4" font-size="31.4" textLength="36.48" lengthAdjust="spacingAndGlyphs" fill="#000">10</text>
<text x="921.96" y="967.9" font-size="19.4" textLength="10.47" lengthAdjust="spacingAndGlyphs" fill="#000">0</text>
<text x="974.37" y="986.4" font-size="31.4" textLength="36.93" lengthAdjust="spacingAndGlyphs" fill="#000">10</text>
<text x="1012.42" y="967.9" font-size="19.4" textLength="8.64" lengthAdjust="spacingAndGlyphs" fill="#000">1</text>
<text x="1065.19" y="986.4" font-size="31.4" textLength="35.14" lengthAdjust="spacingAndGlyphs" fill="#000">10</text>
<text x="1100.75" y="967.9" font-size="19.4" textLength="11.6" lengthAdjust="spacingAndGlyphs" fill="#000">2</text>
<text x="1154.42" y="986.4" font-size="31.4" textLength="36.14" lengthAdjust="spacingAndGlyphs" fill="#000">10</text>
<text x="1190.33" y="967.9" font-size="19.4" textLength="11.26" lengthAdjust="spacingAndGlyphs" fill="#000">3</text>
<text x="1244.79" y="986.4" font-size="31.4" textLength="35.14" lengthAdjust="spacingAndGlyphs" fill="#000">10</text>
<text x="1280.65" y="967.9" font-size="19.4" textLength="10.82" lengthAdjust="spacingAndGlyphs" fill="#000">4</text>
<text x="936.52" y="1016.8" font-size="29.89" textLength="250.43" lengthAdjust="spacingAndGlyphs" fill="#000">Luminance (cd m</text>
<text x="1186.98" y="997.6" font-size="17.5" textLength="16.45" lengthAdjust="spacingAndGlyphs" fill="#000">-2</text>
<text x="1206.04" y="1016.8" font-size="30.5" textLength="9.29" lengthAdjust="spacingAndGlyphs" fill="#000">)</text>
<text x="-944.26" y="755.6" font-size="32.68" textLength="339.82" lengthAdjust="spacingAndGlyphs" fill="#ff0000" transform="rotate(-90)">Current efficiency (cd A</text>
<text x="-604.31" y="736.7" font-size="18.5" textLength="16.2" lengthAdjust="spacingAndGlyphs" fill="#ff0000" transform="rotate(-90)">-1</text>
<text x="-584.14" y="755.6" font-size="33" textLength="8.04" lengthAdjust="spacingAndGlyphs" fill="#ff0000" transform="rotate(-90)">)</text>
<text x="-940.97" y="1420" font-size="33.1" textLength="331.18" lengthAdjust="spacingAndGlyphs" fill="#00ff00" transform="rotate(-90)">Power efficiency (lm W</text>
<text x="-607.69" y="1401" font-size="18.5" textLength="13.74" lengthAdjust="spacingAndGlyphs" fill="#00ff00" transform="rotate(-90)">-1</text>
<text x="-588.56" y="1420" font-size="33" textLength="9.29" lengthAdjust="spacingAndGlyphs" fill="#00ff00" transform="rotate(-90)">)</text>
<line x1="1611.6" y1="570" x2="1611.6" y2="940.5" stroke="#111" stroke-width="1.3" stroke-dasharray="17.5 5.8"/>
<line x1="1701" y1="572" x2="1701" y2="940.5" stroke="#111" stroke-width="1.3" stroke-dasharray="17.5 5.8"/>
<line x1="1790.4" y1="570" x2="1790.4" y2="940.5" stroke="#111" stroke-width="1.3" stroke-dasharray="17.5 5.8"/>
<line x1="1879.8" y1="572" x2="1879.8" y2="940.5" stroke="#111" stroke-width="1.3" stroke-dasharray="17.5 5.8"/>
<line x1="1969.2" y1="570" x2="1969.2" y2="940.5" stroke="#111" stroke-width="1.3" stroke-dasharray="17.5 5.8"/>
<g clip-path="url(#clipF)">
<polyline points="1524.1,636.9 1560,637.6 1611.6,638.8 1662.3,640.7 1740.8,642.1 1789.9,644.8 1825.2,645.7 1851.2,647.8 1871.3,649.2 1887.1,650.4 1900.9,651.8 1913.2,653.2 1924.1,654.8 1934.3,656.2 1969.5,662.7 1988.9,669.4 2010,679.1 2024.1,689.7 2029.4,705.5 2031,712" fill="none" stroke="#ff0000" stroke-width="1.4" stroke-linejoin="round"/>
<path d="M1658 636.4h8.6v8.6h-8.6zM1736.5 637.8h8.6v8.6h-8.6zM1785.6 640.5h8.6v8.6h-8.6zM1820.9 641.4h8.6v8.6h-8.6zM1846.9 643.5h8.6v8.6h-8.6zM1867 644.9h8.6v8.6h-8.6zM1882.8 646.1h8.6v8.6h-8.6zM1896.6 647.5h8.6v8.6h-8.6zM1908.9 648.9h8.6v8.6h-8.6zM1919.8 650.5h8.6v8.6h-8.6zM1930 651.9h8.6v8.6h-8.6zM1936.9 653.17h8.6v8.6h-8.6zM1943.8 654.45h8.6v8.6h-8.6zM1950.7 655.72h8.6v8.6h-8.6zM1957.6 657h8.6v8.6h-8.6zM1964.5 658.27h8.6v8.6h-8.6zM1971.4 660.54h8.6v8.6h-8.6zM1978.3 662.92h8.6v8.6h-8.6zM1985.2 665.38h8.6v8.6h-8.6zM1992.1 668.55h8.6v8.6h-8.6zM1999 671.72h8.6v8.6h-8.6zM2005.9 674.95h8.6v8.6h-8.6zM2012.8 680.14h8.6v8.6h-8.6zM2019.7 685.32h8.6v8.6h-8.6zM2026.6 707.29h8.6v8.6h-8.6zM2024.2 698.52h8.6v8.6h-8.6zM2025.7 703.64h8.6v8.6h-8.6z" fill="#ff0000"/>
</g>
<line x1="1524.1" y1="563" x2="2031.5" y2="563" stroke="#000" stroke-width="1.4"/>
<line x1="1524.1" y1="940.5" x2="2031.5" y2="940.5" stroke="#222" stroke-width="1.4"/>
<line x1="1524.1" y1="570" x2="1524.1" y2="940.5" stroke="#ff0000" stroke-width="1.3"/>
<line x1="1549.11" y1="563" x2="1549.11" y2="566" stroke="#000" stroke-width="1.2"/>
<line x1="1564.85" y1="563" x2="1564.85" y2="566" stroke="#000" stroke-width="1.2"/>
<line x1="1576.02" y1="563" x2="1576.02" y2="566" stroke="#000" stroke-width="1.2"/>
<line x1="1584.69" y1="563" x2="1584.69" y2="566" stroke="#000" stroke-width="1.2"/>
<line x1="1591.77" y1="563" x2="1591.77" y2="566" stroke="#000" stroke-width="1.2"/>
<line x1="1597.75" y1="563" x2="1597.75" y2="566" stroke="#000" stroke-width="1.2"/>
<line x1="1602.94" y1="563" x2="1602.94" y2="566" stroke="#000" stroke-width="1.2"/>
<line x1="1607.51" y1="563" x2="1607.51" y2="566" stroke="#000" stroke-width="1.2"/>
<line x1="1611.6" y1="563" x2="1611.6" y2="568" stroke="#000" stroke-width="1.2"/>
<line x1="1638.51" y1="563" x2="1638.51" y2="566" stroke="#000" stroke-width="1.2"/>
<line x1="1654.25" y1="563" x2="1654.25" y2="566" stroke="#000" stroke-width="1.2"/>
<line x1="1665.42" y1="563" x2="1665.42" y2="566" stroke="#000" stroke-width="1.2"/>
<line x1="1674.09" y1="563" x2="1674.09" y2="566" stroke="#000" stroke-width="1.2"/>
<line x1="1681.17" y1="563" x2="1681.17" y2="566" stroke="#000" stroke-width="1.2"/>
<line x1="1687.15" y1="563" x2="1687.15" y2="566" stroke="#000" stroke-width="1.2"/>
<line x1="1692.34" y1="563" x2="1692.34" y2="566" stroke="#000" stroke-width="1.2"/>
<line x1="1696.91" y1="563" x2="1696.91" y2="566" stroke="#000" stroke-width="1.2"/>
<line x1="1701" y1="563" x2="1701" y2="568" stroke="#000" stroke-width="1.2"/>
<line x1="1727.91" y1="563" x2="1727.91" y2="566" stroke="#000" stroke-width="1.2"/>
<line x1="1743.65" y1="563" x2="1743.65" y2="566" stroke="#000" stroke-width="1.2"/>
<line x1="1754.82" y1="563" x2="1754.82" y2="566" stroke="#000" stroke-width="1.2"/>
<line x1="1763.49" y1="563" x2="1763.49" y2="566" stroke="#000" stroke-width="1.2"/>
<line x1="1770.57" y1="563" x2="1770.57" y2="566" stroke="#000" stroke-width="1.2"/>
<line x1="1776.55" y1="563" x2="1776.55" y2="566" stroke="#000" stroke-width="1.2"/>
<line x1="1781.74" y1="563" x2="1781.74" y2="566" stroke="#000" stroke-width="1.2"/>
<line x1="1786.31" y1="563" x2="1786.31" y2="566" stroke="#000" stroke-width="1.2"/>
<line x1="1790.4" y1="563" x2="1790.4" y2="568" stroke="#000" stroke-width="1.2"/>
<line x1="1817.31" y1="563" x2="1817.31" y2="566" stroke="#000" stroke-width="1.2"/>
<line x1="1833.05" y1="563" x2="1833.05" y2="566" stroke="#000" stroke-width="1.2"/>
<line x1="1844.22" y1="563" x2="1844.22" y2="566" stroke="#000" stroke-width="1.2"/>
<line x1="1852.89" y1="563" x2="1852.89" y2="566" stroke="#000" stroke-width="1.2"/>
<line x1="1859.97" y1="563" x2="1859.97" y2="566" stroke="#000" stroke-width="1.2"/>
<line x1="1865.95" y1="563" x2="1865.95" y2="566" stroke="#000" stroke-width="1.2"/>
<line x1="1871.14" y1="563" x2="1871.14" y2="566" stroke="#000" stroke-width="1.2"/>
<line x1="1875.71" y1="563" x2="1875.71" y2="566" stroke="#000" stroke-width="1.2"/>
<line x1="1879.8" y1="563" x2="1879.8" y2="568" stroke="#000" stroke-width="1.2"/>
<line x1="1906.71" y1="563" x2="1906.71" y2="566" stroke="#000" stroke-width="1.2"/>
<line x1="1922.45" y1="563" x2="1922.45" y2="566" stroke="#000" stroke-width="1.2"/>
<line x1="1933.62" y1="563" x2="1933.62" y2="566" stroke="#000" stroke-width="1.2"/>
<line x1="1942.29" y1="563" x2="1942.29" y2="566" stroke="#000" stroke-width="1.2"/>
<line x1="1949.37" y1="563" x2="1949.37" y2="566" stroke="#000" stroke-width="1.2"/>
<line x1="1955.35" y1="563" x2="1955.35" y2="566" stroke="#000" stroke-width="1.2"/>
<line x1="1960.54" y1="563" x2="1960.54" y2="566" stroke="#000" stroke-width="1.2"/>
<line x1="1965.11" y1="563" x2="1965.11" y2="566" stroke="#000" stroke-width="1.2"/>
<line x1="1969.2" y1="563" x2="1969.2" y2="568" stroke="#000" stroke-width="1.2"/>
<line x1="1996.11" y1="563" x2="1996.11" y2="566" stroke="#000" stroke-width="1.2"/>
<line x1="2011.85" y1="563" x2="2011.85" y2="566" stroke="#000" stroke-width="1.2"/>
<line x1="2023.02" y1="563" x2="2023.02" y2="566" stroke="#000" stroke-width="1.2"/>
<line x1="1549.11" y1="940.5" x2="1549.11" y2="937.5" stroke="#222" stroke-width="1.2"/>
<line x1="1564.85" y1="940.5" x2="1564.85" y2="937.5" stroke="#222" stroke-width="1.2"/>
<line x1="1576.02" y1="940.5" x2="1576.02" y2="937.5" stroke="#222" stroke-width="1.2"/>
<line x1="1584.69" y1="940.5" x2="1584.69" y2="937.5" stroke="#222" stroke-width="1.2"/>
<line x1="1591.77" y1="940.5" x2="1591.77" y2="937.5" stroke="#222" stroke-width="1.2"/>
<line x1="1597.75" y1="940.5" x2="1597.75" y2="937.5" stroke="#222" stroke-width="1.2"/>
<line x1="1602.94" y1="940.5" x2="1602.94" y2="937.5" stroke="#222" stroke-width="1.2"/>
<line x1="1607.51" y1="940.5" x2="1607.51" y2="937.5" stroke="#222" stroke-width="1.2"/>
<line x1="1611.6" y1="940.5" x2="1611.6" y2="934.5" stroke="#222" stroke-width="1.2"/>
<line x1="1638.51" y1="940.5" x2="1638.51" y2="937.5" stroke="#222" stroke-width="1.2"/>
<line x1="1654.25" y1="940.5" x2="1654.25" y2="937.5" stroke="#222" stroke-width="1.2"/>
<line x1="1665.42" y1="940.5" x2="1665.42" y2="937.5" stroke="#222" stroke-width="1.2"/>
<line x1="1674.09" y1="940.5" x2="1674.09" y2="937.5" stroke="#222" stroke-width="1.2"/>
<line x1="1681.17" y1="940.5" x2="1681.17" y2="937.5" stroke="#222" stroke-width="1.2"/>
<line x1="1687.15" y1="940.5" x2="1687.15" y2="937.5" stroke="#222" stroke-width="1.2"/>
<line x1="1692.34" y1="940.5" x2="1692.34" y2="937.5" stroke="#222" stroke-width="1.2"/>
<line x1="1696.91" y1="940.5" x2="1696.91" y2="937.5" stroke="#222" stroke-width="1.2"/>
<line x1="1701" y1="940.5" x2="1701" y2="934.5" stroke="#222" stroke-width="1.2"/>
<line x1="1727.91" y1="940.5" x2="1727.91" y2="937.5" stroke="#222" stroke-width="1.2"/>
<line x1="1743.65" y1="940.5" x2="1743.65" y2="937.5" stroke="#222" stroke-width="1.2"/>
<line x1="1754.82" y1="940.5" x2="1754.82" y2="937.5" stroke="#222" stroke-width="1.2"/>
<line x1="1763.49" y1="940.5" x2="1763.49" y2="937.5" stroke="#222" stroke-width="1.2"/>
<line x1="1770.57" y1="940.5" x2="1770.57" y2="937.5" stroke="#222" stroke-width="1.2"/>
<line x1="1776.55" y1="940.5" x2="1776.55" y2="937.5" stroke="#222" stroke-width="1.2"/>
<line x1="1781.74" y1="940.5" x2="1781.74" y2="937.5" stroke="#222" stroke-width="1.2"/>
<line x1="1786.31" y1="940.5" x2="1786.31" y2="937.5" stroke="#222" stroke-width="1.2"/>
<line x1="1790.4" y1="940.5" x2="1790.4" y2="934.5" stroke="#222" stroke-width="1.2"/>
<line x1="1817.31" y1="940.5" x2="1817.31" y2="937.5" stroke="#222" stroke-width="1.2"/>
<line x1="1833.05" y1="940.5" x2="1833.05" y2="937.5" stroke="#222" stroke-width="1.2"/>
<line x1="1844.22" y1="940.5" x2="1844.22" y2="937.5" stroke="#222" stroke-width="1.2"/>
<line x1="1852.89" y1="940.5" x2="1852.89" y2="937.5" stroke="#222" stroke-width="1.2"/>
<line x1="1859.97" y1="940.5" x2="1859.97" y2="937.5" stroke="#222" stroke-width="1.2"/>
<line x1="1865.95" y1="940.5" x2="1865.95" y2="937.5" stroke="#222" stroke-width="1.2"/>
<line x1="1871.14" y1="940.5" x2="1871.14" y2="937.5" stroke="#222" stroke-width="1.2"/>
<line x1="1875.71" y1="940.5" x2="1875.71" y2="937.5" stroke="#222" stroke-width="1.2"/>
<line x1="1879.8" y1="940.5" x2="1879.8" y2="934.5" stroke="#222" stroke-width="1.2"/>
<line x1="1906.71" y1="940.5" x2="1906.71" y2="937.5" stroke="#222" stroke-width="1.2"/>
<line x1="1922.45" y1="940.5" x2="1922.45" y2="937.5" stroke="#222" stroke-width="1.2"/>
<line x1="1933.62" y1="940.5" x2="1933.62" y2="937.5" stroke="#222" stroke-width="1.2"/>
<line x1="1942.29" y1="940.5" x2="1942.29" y2="937.5" stroke="#222" stroke-width="1.2"/>
<line x1="1949.37" y1="940.5" x2="1949.37" y2="937.5" stroke="#222" stroke-width="1.2"/>
<line x1="1955.35" y1="940.5" x2="1955.35" y2="937.5" stroke="#222" stroke-width="1.2"/>
<line x1="1960.54" y1="940.5" x2="1960.54" y2="937.5" stroke="#222" stroke-width="1.2"/>
<line x1="1965.11" y1="940.5" x2="1965.11" y2="937.5" stroke="#222" stroke-width="1.2"/>
<line x1="1969.2" y1="940.5" x2="1969.2" y2="934.5" stroke="#222" stroke-width="1.2"/>
<line x1="1996.11" y1="940.5" x2="1996.11" y2="937.5" stroke="#222" stroke-width="1.2"/>
<line x1="2011.85" y1="940.5" x2="2011.85" y2="937.5" stroke="#222" stroke-width="1.2"/>
<line x1="2023.02" y1="940.5" x2="2023.02" y2="937.5" stroke="#222" stroke-width="1.2"/>
<line x1="1524.1" y1="940.5" x2="1530.4" y2="940.5" stroke="#ff0000" stroke-width="1.2"/>
<line x1="1524.1" y1="883.68" x2="1527.6" y2="883.68" stroke="#ff0000" stroke-width="1.2"/>
<line x1="1524.1" y1="850.44" x2="1527.6" y2="850.44" stroke="#ff0000" stroke-width="1.2"/>
<line x1="1524.1" y1="826.86" x2="1527.6" y2="826.86" stroke="#ff0000" stroke-width="1.2"/>
<line x1="1524.1" y1="808.57" x2="1527.6" y2="808.57" stroke="#ff0000" stroke-width="1.2"/>
<line x1="1524.1" y1="793.62" x2="1527.6" y2="793.62" stroke="#ff0000" stroke-width="1.2"/>
<line x1="1524.1" y1="780.99" x2="1527.6" y2="780.99" stroke="#ff0000" stroke-width="1.2"/>
<line x1="1524.1" y1="770.04" x2="1527.6" y2="770.04" stroke="#ff0000" stroke-width="1.2"/>
<line x1="1524.1" y1="760.39" x2="1527.6" y2="760.39" stroke="#ff0000" stroke-width="1.2"/>
<line x1="1524.1" y1="751.75" x2="1530.4" y2="751.75" stroke="#ff0000" stroke-width="1.2"/>
<line x1="1524.1" y1="694.93" x2="1527.6" y2="694.93" stroke="#ff0000" stroke-width="1.2"/>
<line x1="1524.1" y1="661.69" x2="1527.6" y2="661.69" stroke="#ff0000" stroke-width="1.2"/>
<line x1="1524.1" y1="638.11" x2="1527.6" y2="638.11" stroke="#ff0000" stroke-width="1.2"/>
<line x1="1524.1" y1="619.82" x2="1527.6" y2="619.82" stroke="#ff0000" stroke-width="1.2"/>
<line x1="1524.1" y1="604.87" x2="1527.6" y2="604.87" stroke="#ff0000" stroke-width="1.2"/>
<line x1="1524.1" y1="592.24" x2="1527.6" y2="592.24" stroke="#ff0000" stroke-width="1.2"/>
<line x1="1524.1" y1="581.29" x2="1527.6" y2="581.29" stroke="#ff0000" stroke-width="1.2"/>
<line x1="1524.1" y1="571.64" x2="1527.6" y2="571.64" stroke="#ff0000" stroke-width="1.2"/>
<line x1="1524.1" y1="563" x2="1530.4" y2="563" stroke="#ff0000" stroke-width="1.2"/>
<line x1="2031" y1="940.5" x2="2024.4" y2="940.5" stroke="#000" stroke-width="1.2"/>
<line x1="2031" y1="883.68" x2="2027.5" y2="883.68" stroke="#000" stroke-width="1.2"/>
<line x1="2031" y1="850.44" x2="2027.5" y2="850.44" stroke="#000" stroke-width="1.2"/>
<line x1="2031" y1="826.86" x2="2027.5" y2="826.86" stroke="#000" stroke-width="1.2"/>
<line x1="2031" y1="808.57" x2="2027.5" y2="808.57" stroke="#000" stroke-width="1.2"/>
<line x1="2031" y1="793.62" x2="2027.5" y2="793.62" stroke="#000" stroke-width="1.2"/>
<line x1="2031" y1="780.99" x2="2027.5" y2="780.99" stroke="#000" stroke-width="1.2"/>
<line x1="2031" y1="770.04" x2="2027.5" y2="770.04" stroke="#000" stroke-width="1.2"/>
<line x1="2031" y1="760.39" x2="2027.5" y2="760.39" stroke="#000" stroke-width="1.2"/>
<line x1="2031" y1="751.75" x2="2024.4" y2="751.75" stroke="#000" stroke-width="1.2"/>
<line x1="2031" y1="694.93" x2="2027.5" y2="694.93" stroke="#000" stroke-width="1.2"/>
<line x1="2031" y1="661.69" x2="2027.5" y2="661.69" stroke="#000" stroke-width="1.2"/>
<line x1="2031" y1="638.11" x2="2027.5" y2="638.11" stroke="#000" stroke-width="1.2"/>
<line x1="2031" y1="619.82" x2="2027.5" y2="619.82" stroke="#000" stroke-width="1.2"/>
<line x1="2031" y1="604.87" x2="2027.5" y2="604.87" stroke="#000" stroke-width="1.2"/>
<line x1="2031" y1="592.24" x2="2027.5" y2="592.24" stroke="#000" stroke-width="1.2"/>
<line x1="2031" y1="581.29" x2="2027.5" y2="581.29" stroke="#000" stroke-width="1.2"/>
<line x1="2031" y1="571.64" x2="2027.5" y2="571.64" stroke="#000" stroke-width="1.2"/>
<line x1="2031" y1="563" x2="2024.4" y2="563" stroke="#000" stroke-width="1.2"/>
<text x="1531.16" y="597.8" font-size="40.85" textLength="14.46" lengthAdjust="spacingAndGlyphs" fill="#000" font-weight="bold">f</text>
<text x="1460.72" y="571.5" font-size="31.8" textLength="54.35" lengthAdjust="spacingAndGlyphs" fill="#ff0000">100</text>
<text x="1479.25" y="760.15" font-size="31.8" textLength="35.81" lengthAdjust="spacingAndGlyphs" fill="#ff0000">10</text>
<text x="1515.1" y="948.9" font-size="31.8" fill="#ff0000" text-anchor="end">1</text>
<text x="1528.33" y="625.4" font-size="24" textLength="48.53" lengthAdjust="spacingAndGlyphs" fill="#ff0000">41.2</text>
<text x="1612.04" y="628" font-size="24" textLength="47.18" lengthAdjust="spacingAndGlyphs" fill="#ff0000">40.2</text>
<text x="1702.37" y="631.6" font-size="24" textLength="47.28" lengthAdjust="spacingAndGlyphs" fill="#ff0000">38.8</text>
<text x="1791.67" y="635.1" font-size="24" textLength="47.35" lengthAdjust="spacingAndGlyphs" fill="#ff0000">37.2</text>
<text x="1881.76" y="636" font-size="24" textLength="47.8" lengthAdjust="spacingAndGlyphs" fill="#ff0000">34.8</text>
<text x="1971.78" y="657.6" font-size="24" textLength="46.92" lengthAdjust="spacingAndGlyphs" fill="#ff0000">30.4</text>
<text x="1496.98" y="980.6" font-size="30.5" textLength="35.36" lengthAdjust="spacingAndGlyphs" fill="#000">10</text>
<text x="1531.45" y="962.9" font-size="18.5" textLength="17.09" lengthAdjust="spacingAndGlyphs" fill="#000">-1</text>
<text x="1588.38" y="980.6" font-size="30.5" textLength="35.36" lengthAdjust="spacingAndGlyphs" fill="#000">10</text>
<text x="1623.38" y="962.9" font-size="18.5" textLength="11.63" lengthAdjust="spacingAndGlyphs" fill="#000">0</text>
<text x="1678.58" y="980.6" font-size="30.5" textLength="35.36" lengthAdjust="spacingAndGlyphs" fill="#000">10</text>
<text x="1716.04" y="962.9" font-size="18.5" textLength="7.74" lengthAdjust="spacingAndGlyphs" fill="#000">1</text>
<text x="1767.87" y="980.6" font-size="30.5" textLength="35.48" lengthAdjust="spacingAndGlyphs" fill="#000">10</text>
<text x="1803.32" y="962.9" font-size="18.5" textLength="10.87" lengthAdjust="spacingAndGlyphs" fill="#000">2</text>
<text x="1857.28" y="980.6" font-size="30.5" textLength="35.36" lengthAdjust="spacingAndGlyphs" fill="#000">10</text>
<text x="1893.75" y="962.9" font-size="18.5" textLength="9.5" lengthAdjust="spacingAndGlyphs" fill="#000">3</text>
<text x="1945.48" y="980.6" font-size="30.5" textLength="35.36" lengthAdjust="spacingAndGlyphs" fill="#000">10</text>
<text x="1980.53" y="962.9" font-size="18.5" textLength="11.37" lengthAdjust="spacingAndGlyphs" fill="#000">4</text>
<text x="1638.44" y="1013.1" font-size="29.89" textLength="248.49" lengthAdjust="spacingAndGlyphs" fill="#000">Luminance (cd m</text>
<text x="1887.59" y="994.9" font-size="18" textLength="18.13" lengthAdjust="spacingAndGlyphs" fill="#000">-2</text>
<text x="1906" y="1013.1" font-size="30.5" textLength="11.18" lengthAdjust="spacingAndGlyphs" fill="#000">)</text>
<text x="-799.77" y="1468.4" font-size="32.26" textLength="128.6" lengthAdjust="spacingAndGlyphs" fill="#ff0000" transform="rotate(-90)">EQE (%)</text>
</svg>
</body></html>
